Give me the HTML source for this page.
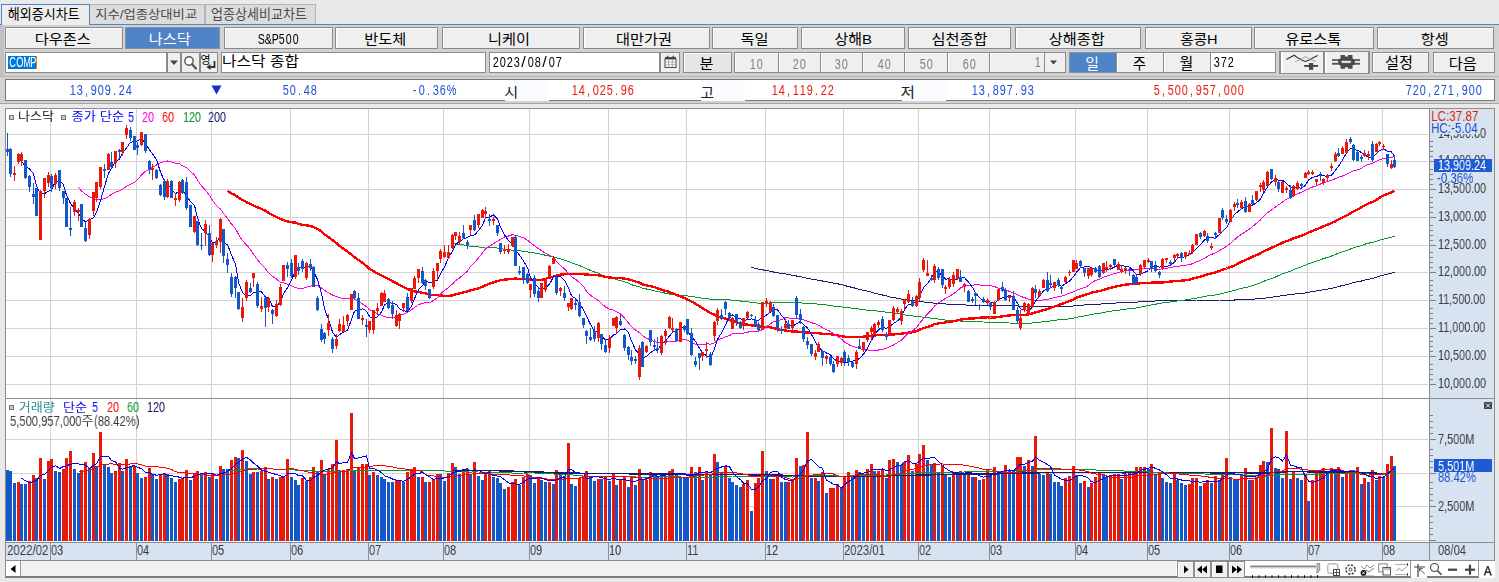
<!DOCTYPE html>
<html lang="ko"><head><meta charset="utf-8"><title>해외증시차트</title><style>
html,body{margin:0;padding:0}
body{width:1499px;height:582px;overflow:hidden;position:relative;background:#e9e9e9;font-family:"Liberation Sans",sans-serif}
div,span.m,span.p,svg.k{position:absolute;box-sizing:border-box}
.tbar{left:0;top:25px;width:1499px;height:79px;background:#d2d2d2;border-bottom:1px solid #a6a6a6}
.tabline{left:0;top:24px;width:1499px;height:1px;background:#4f86c6}
.tab{background:#dcdcdc;border:1px solid #b4b4b4;border-bottom:none}
.tab.act{background:#ededed;border:1px solid #4a86c8;border-bottom:none}
.lstrip{background:#c2c2c2}
.btn{background:#efefef;border:1px solid #8a8a8a;box-shadow:inset 1px 1px 0 #fdfdfd}
.btn.on{background:#4f84c6;border-color:#8791a3;box-shadow:none}
.btn.dk{background:#e6e6e6}
.btn.sm{box-shadow:none}
.inp{background:#fff;border:1px solid #8a8a8a}
.sel{background:#0078d7}
.ic{position:absolute;left:-1px;top:-1px}
.sep{left:0;top:76px;width:1499px;height:1px;background:#b4b4b4}
.quote{background:#fff;border:1px solid #787878}
.frame{background:#fff;border:1px solid #8c8c8c;border-bottom:2px solid #7c7c7c}
.pane{background:#fff}
.axis{background:#d7e3f1}
.hl{height:1px;background:#8c8c8c}
.vl{width:1px;background:#8c8c8c}
.sbar{background:#f1f1f1}
.sbtn{background:#fff;border-right:1px solid #9a9a9a}
.pbtn{background:#f0f0f0;border:1px solid #8e8e8e;box-shadow:inset 1px 1px 0 #fdfdfd}
span.m{white-space:nowrap;line-height:1;transform-origin:0 0;will-change:transform}
span.m i{display:inline-block;font-style:normal;width:var(--a);text-align:center}
span.m i{transform:scaleX(var(--sx))}
span.m i.w{transform:scaleX(1.15)}
span.p{white-space:pre;line-height:1;transform-origin:0 0;will-change:transform}
</style></head><body>
<div class="tbar"></div>
<div class="tabline"></div>
<div class="tab" style="left:89px;top:4px;width:116px;height:20px;"></div>
<div class="tab" style="left:205px;top:4px;width:111px;height:20px;"></div>
<div class="tab act" style="left:1px;top:4px;width:89px;height:21px;"></div>
<svg class="k" role="img" aria-label="해외증시차트" style="left:6px;top:5px" width="78" height="19"><title>해외증시차트</title><text x="1.7" y="13.9" font-size="13.3" fill="#000" textLength="72" lengthAdjust="spacingAndGlyphs" font-family="&quot;Liberation Sans&quot;, &quot;Noto Sans CJK KR&quot;, sans-serif">해외증시차트</text></svg>
<svg class="k" role="img" aria-label="지수/업종상대비교" style="left:93px;top:5px" width="108" height="19"><title>지수/업종상대비교</title><text x="2.2" y="13.6" font-size="12.4" fill="#4a4a4a" textLength="102" lengthAdjust="spacingAndGlyphs" font-family="&quot;Liberation Sans&quot;, &quot;Noto Sans CJK KR&quot;, sans-serif">지수/업종상대비교</text></svg>
<svg class="k" role="img" aria-label="업종상세비교차트" style="left:209px;top:5px" width="102" height="19"><title>업종상세비교차트</title><text x="1.9" y="13.9" font-size="13.3" fill="#4a4a4a" textLength="96" lengthAdjust="spacingAndGlyphs" font-family="&quot;Liberation Sans&quot;, &quot;Noto Sans CJK KR&quot;, sans-serif">업종상세비교차트</text></svg>
<div class="lstrip" style="left:0px;top:25px;width:4px;height:51px;"></div>
<div class="btn" style="left:5px;top:27px;width:118px;height:22px;"></div>
<svg class="k" role="img" aria-label="다우존스" style="left:33px;top:30px" width="61" height="19"><title>다우존스</title><text x="1.7" y="14" font-size="13.6" fill="#000" textLength="56" lengthAdjust="spacingAndGlyphs" font-family="&quot;Liberation Sans&quot;, &quot;Noto Sans CJK KR&quot;, sans-serif">다우존스</text></svg>
<div class="btn on" style="left:125px;top:27px;width:95px;height:22px;"></div>
<svg class="k" role="img" aria-label="나스닥" style="left:147px;top:30px" width="48" height="19"><title>나스닥</title><text x="1.7" y="14" font-size="13.6" fill="#fff" textLength="42" lengthAdjust="spacingAndGlyphs" font-family="&quot;Liberation Sans&quot;, &quot;Noto Sans CJK KR&quot;, sans-serif">나스닥</text></svg>
<div class="btn" style="left:224px;top:27px;width:109px;height:22px;"></div>
<span class="m " style="left:256.7px;top:32px;font-size:14px;color:#000;--a:7px;--sx:0.76"><i>S</i><i>&amp;</i><i>P</i><i>5</i><i>0</i><i>0</i></span>
<div class="btn" style="left:335px;top:27px;width:103px;height:22px;"></div>
<svg class="k" role="img" aria-label="반도체" style="left:363px;top:30px" width="47" height="19"><title>반도체</title><text x="1.2" y="14" font-size="13.6" fill="#000" textLength="42" lengthAdjust="spacingAndGlyphs" font-family="&quot;Liberation Sans&quot;, &quot;Noto Sans CJK KR&quot;, sans-serif">반도체</text></svg>
<div class="btn" style="left:442px;top:27px;width:138px;height:22px;"></div>
<svg class="k" role="img" aria-label="니케이" style="left:487px;top:30px" width="47" height="19"><title>니케이</title><text x="1" y="14" font-size="13.6" fill="#000" textLength="42" lengthAdjust="spacingAndGlyphs" font-family="&quot;Liberation Sans&quot;, &quot;Noto Sans CJK KR&quot;, sans-serif">니케이</text></svg>
<div class="btn" style="left:583px;top:27px;width:127px;height:22px;"></div>
<svg class="k" role="img" aria-label="대만가권" style="left:615px;top:30px" width="61" height="19"><title>대만가권</title><text x="1.1" y="14" font-size="13.6" fill="#000" textLength="56" lengthAdjust="spacingAndGlyphs" font-family="&quot;Liberation Sans&quot;, &quot;Noto Sans CJK KR&quot;, sans-serif">대만가권</text></svg>
<div class="btn" style="left:712px;top:27px;width:86px;height:22px;"></div>
<svg class="k" role="img" aria-label="독일" style="left:738px;top:30px" width="33" height="19"><title>독일</title><text x="2.4" y="14" font-size="13.6" fill="#000" textLength="28" lengthAdjust="spacingAndGlyphs" font-family="&quot;Liberation Sans&quot;, &quot;Noto Sans CJK KR&quot;, sans-serif">독일</text></svg>
<div class="btn" style="left:801px;top:27px;width:104px;height:22px;"></div>
<svg class="k" role="img" aria-label="상해B" style="left:832px;top:30px" width="42" height="19"><title>상해B</title><text x="2.4" y="14" font-size="13.6" fill="#000" textLength="37.5" lengthAdjust="spacingAndGlyphs" font-family="&quot;Liberation Sans&quot;, &quot;Noto Sans CJK KR&quot;, sans-serif">상해B</text></svg>
<div class="btn" style="left:908px;top:27px;width:103px;height:22px;"></div>
<svg class="k" role="img" aria-label="심천종합" style="left:930px;top:30px" width="62" height="19"><title>심천종합</title><text x="1.6" y="14" font-size="13.6" fill="#000" textLength="56" lengthAdjust="spacingAndGlyphs" font-family="&quot;Liberation Sans&quot;, &quot;Noto Sans CJK KR&quot;, sans-serif">심천종합</text></svg>
<div class="btn" style="left:1015px;top:27px;width:126px;height:22px;"></div>
<svg class="k" role="img" aria-label="상해종합" style="left:1047px;top:30px" width="62" height="19"><title>상해종합</title><text x="1.8" y="14" font-size="13.6" fill="#000" textLength="56" lengthAdjust="spacingAndGlyphs" font-family="&quot;Liberation Sans&quot;, &quot;Noto Sans CJK KR&quot;, sans-serif">상해종합</text></svg>
<div class="btn" style="left:1145px;top:27px;width:107px;height:22px;"></div>
<svg class="k" role="img" aria-label="홍콩H" style="left:1178px;top:30px" width="42" height="19"><title>홍콩H</title><text x="2.3" y="14" font-size="13.6" fill="#000" textLength="37.3" lengthAdjust="spacingAndGlyphs" font-family="&quot;Liberation Sans&quot;, &quot;Noto Sans CJK KR&quot;, sans-serif">홍콩H</text></svg>
<div class="btn" style="left:1254px;top:27px;width:120px;height:22px;"></div>
<svg class="k" role="img" aria-label="유로스톡" style="left:1283px;top:30px" width="61" height="19"><title>유로스톡</title><text x="2.3" y="14" font-size="13.8" fill="#000" textLength="56" lengthAdjust="spacingAndGlyphs" font-family="&quot;Liberation Sans&quot;, &quot;Noto Sans CJK KR&quot;, sans-serif">유로스톡</text></svg>
<div class="btn" style="left:1377px;top:27px;width:117px;height:22px;"></div>
<svg class="k" role="img" aria-label="항셍" style="left:1419px;top:30px" width="33" height="19"><title>항셍</title><text x="1.8" y="14" font-size="13.6" fill="#000" textLength="28" lengthAdjust="spacingAndGlyphs" font-family="&quot;Liberation Sans&quot;, &quot;Noto Sans CJK KR&quot;, sans-serif">항셍</text></svg>
<div class="inp" style="left:5px;top:52px;width:162px;height:21px;"></div>
<div class="sel" style="left:8px;top:56px;width:28px;height:13px;"></div>
<div class="" style="left:36px;top:56px;width:1px;height:13px;background:#e8730c"></div>
<span class="m " style="left:8.3px;top:55px;font-size:14px;color:#fff;--a:7px;--sx:0.66"><i>C</i><i>O</i><i>M</i><i>P</i></span>
<div class="btn sm" style="left:167px;top:52px;width:14px;height:21px;"><svg class="ic" width="14" height="21"><path d="M3 8.5h8l-4 4.5z" fill="#444"/></svg></div>
<div class="btn sm" style="left:181px;top:52px;width:19px;height:21px;"><svg class="ic" width="19" height="21"><circle cx="8" cy="9" r="4.2" fill="#fdfdfd" stroke="#555" stroke-width="1.4"/><path d="M11 12.2l4 4.3" stroke="#555" stroke-width="2.2" stroke-linecap="round"/></svg></div>
<div class="btn sm" style="left:200px;top:52px;width:18px;height:21px;"><svg class="ic" width="18" height="21"><path d="M14.5 9v6h-5" fill="none" stroke="#333" stroke-width="1.8"/><path d="M6.5 15l4-3v6z" fill="#333"/></svg></div>
<svg class="k" role="img" aria-label="영" style="left:198px;top:51px" width="15" height="18"><title>영</title><text x="2.4" y="12.6" font-size="11.9" fill="#000" textLength="10" lengthAdjust="spacingAndGlyphs" font-family="&quot;Liberation Sans&quot;, &quot;Noto Sans CJK KR&quot;, sans-serif">영</text></svg>
<div class="inp" style="left:221px;top:52px;width:265px;height:21px;"></div>
<svg class="k" role="img" aria-label="나스닥 종합" style="left:221px;top:52px" width="84" height="19"><title>나스닥 종합</title><text x="1" y="14.3" font-size="13.8" fill="#000" textLength="77" lengthAdjust="spacingAndGlyphs" font-family="&quot;Liberation Sans&quot;, &quot;Noto Sans CJK KR&quot;, sans-serif">나스닥 종합</text></svg>
<div class="inp" style="left:489px;top:52px;width:171px;height:21px;"></div>
<span class="m " style="left:491.8px;top:55px;font-size:14px;color:#000;--a:7px;--sx:0.78"><i>2</i><i>0</i><i>2</i><i>3</i><i class="w">/</i><i>0</i><i>8</i><i class="w">/</i><i>0</i><i>7</i></span>
<div class="btn sm" style="left:660px;top:52px;width:20px;height:21px;"><svg class="ic" width="20" height="21"><rect x="5" y="5" width="11" height="2.5" fill="#444"/><rect x="5" y="7" width="11" height="8.5" fill="#fff" stroke="#444" stroke-width="1"/><path d="M8.7 7v8.5M12.3 7v8.5M5 10h11M5 12.8h11" stroke="#999" stroke-width="0.8"/><rect x="7" y="3.8" width="1.4" height="2" fill="#444"/><rect x="12.6" y="3.8" width="1.4" height="2" fill="#444"/></svg></div>
<div class="btn dk" style="left:683px;top:52px;width:49px;height:21px;"></div>
<svg class="k" role="img" aria-label="분" style="left:697px;top:54px" width="19" height="20"><title>분</title><text x="2.5" y="14.8" font-size="15.2" fill="#000" textLength="14" lengthAdjust="spacingAndGlyphs" font-family="&quot;Liberation Sans&quot;, &quot;Noto Sans CJK KR&quot;, sans-serif">분</text></svg>
<div class="btn" style="left:734px;top:52px;width:45px;height:21px;"></div>
<span class="m " style="left:749.45px;top:57px;font-size:14px;color:#808080;--a:7px;--sx:0.78"><i>1</i><i>0</i></span>
<div class="btn" style="left:778px;top:52px;width:43px;height:21px;"></div>
<span class="m " style="left:792.2px;top:57px;font-size:14px;color:#808080;--a:7px;--sx:0.78"><i>2</i><i>0</i></span>
<div class="btn" style="left:820px;top:52px;width:43px;height:21px;"></div>
<span class="m " style="left:834.45px;top:57px;font-size:14px;color:#808080;--a:7px;--sx:0.78"><i>3</i><i>0</i></span>
<div class="btn" style="left:862px;top:52px;width:43px;height:21px;"></div>
<span class="m " style="left:876.95px;top:57px;font-size:14px;color:#808080;--a:7px;--sx:0.78"><i>4</i><i>0</i></span>
<div class="btn" style="left:904px;top:52px;width:44px;height:21px;"></div>
<span class="m " style="left:919.45px;top:57px;font-size:14px;color:#808080;--a:7px;--sx:0.78"><i>5</i><i>0</i></span>
<div class="btn" style="left:947px;top:52px;width:44px;height:21px;"></div>
<span class="m " style="left:961.95px;top:57px;font-size:14px;color:#808080;--a:7px;--sx:0.78"><i>6</i><i>0</i></span>
<div class="btn" style="left:989px;top:52px;width:56px;height:21px;"></div>
<span class="m " style="left:1033.5px;top:55px;font-size:14px;color:#808080;--a:7px;--sx:0.78"><i>1</i></span>
<div class="btn sm" style="left:1044px;top:52px;width:22px;height:21px;"><svg class="ic" width="22" height="21"><path d="M6 8.5h7l-3.5 4z" fill="#444"/></svg></div>
<div class="btn on" style="left:1069px;top:52px;width:48px;height:21px;"></div>
<svg class="k" role="img" aria-label="일" style="left:1084px;top:54px" width="18" height="20"><title>일</title><text x="1.2" y="15.2" font-size="15.1" fill="#fff" textLength="13.7" lengthAdjust="spacingAndGlyphs" font-family="&quot;Liberation Sans&quot;, &quot;Noto Sans CJK KR&quot;, sans-serif">일</text></svg>
<div class="btn" style="left:1116px;top:52px;width:48px;height:21px;"></div>
<svg class="k" role="img" aria-label="주" style="left:1131px;top:54px" width="19" height="20"><title>주</title><text x="1.7" y="14.6" font-size="15.3" fill="#000" textLength="13.4" lengthAdjust="spacingAndGlyphs" font-family="&quot;Liberation Sans&quot;, &quot;Noto Sans CJK KR&quot;, sans-serif">주</text></svg>
<div class="btn" style="left:1163px;top:52px;width:48px;height:21px;"></div>
<svg class="k" role="img" aria-label="월" style="left:1177px;top:54px" width="19" height="20"><title>월</title><text x="2.6" y="15.1" font-size="15.4" fill="#000" textLength="13.8" lengthAdjust="spacingAndGlyphs" font-family="&quot;Liberation Sans&quot;, &quot;Noto Sans CJK KR&quot;, sans-serif">월</text></svg>
<div class="inp" style="left:1210px;top:52px;width:66px;height:21px;"></div>
<span class="m " style="left:1212.6px;top:55px;font-size:14px;color:#000;--a:7px;--sx:0.78"><i>3</i><i>7</i><i>2</i></span>
<div class="" style="left:1279px;top:51px;width:91px;height:23px;background:#efefef;border:2px solid #8e8e8e;border-bottom-width:1px;border-top-width:1px"></div>
<div class="" style="left:1323px;top:51px;width:2px;height:23px;background:#8e8e8e"></div>
<div class="" style="left:1325px;top:52px;width:2px;height:21px;background:#fff"></div>
<div class="" style="left:1281px;top:52px;width:2px;height:21px;background:#fff"></div>
<svg class="k" style="left:1279px;top:51px" width="90" height="23" viewBox="1279 51 90 23"><path d="M1286.3 59.5l5.1-2.8 2.9-1.5 2.2 1.8 5.1 2.9 3.9 1.6 3.8-1.6 5.2-2.9 3.2-1.6" fill="none" stroke="#333" stroke-width="1.1"/><path d="M1295.2 61.5l5.2-2 5.1-2.8 5.1 2.8 5.1 2" fill="none" stroke="#999" stroke-width="0.9"/><rect x="1304.2" y="65" width="13.8" height="1.9" fill="#444"/><rect x="1309" y="63" width="4.2" height="6.8" fill="#444"/><rect x="1332" y="59.2" width="28" height="1.7" fill="#555"/><rect x="1332" y="62.8" width="28" height="1.9" fill="#555"/><path d="M1340.5 55h4.5v1.6h3v-1.6h4.5v3.4l2.3 1.2v4.6l-2.3 1.2v3.4h-4.5v-1.6h-3v1.6h-4.5v-3.4l-2.3-1.2v-4.6l2.3-1.2zM1341.5 60v4h9.3v-4z" fill="#4a4a4a" fill-rule="evenodd"/></svg>
<div class="btn" style="left:1372px;top:52px;width:57px;height:21px;"></div>
<svg class="k" role="img" aria-label="설정" style="left:1383px;top:54px" width="33" height="20"><title>설정</title><text x="2.1" y="14.4" font-size="14.5" fill="#000" textLength="28" lengthAdjust="spacingAndGlyphs" font-family="&quot;Liberation Sans&quot;, &quot;Noto Sans CJK KR&quot;, sans-serif">설정</text></svg>
<div class="btn" style="left:1433px;top:52px;width:62px;height:21px;"></div>
<svg class="k" role="img" aria-label="다음" style="left:1447px;top:54px" width="33" height="20"><title>다음</title><text x="1.7" y="14.5" font-size="14.6" fill="#000" textLength="28" lengthAdjust="spacingAndGlyphs" font-family="&quot;Liberation Sans&quot;, &quot;Noto Sans CJK KR&quot;, sans-serif">다음</text></svg>
<div class="sep"></div>
<div class="quote" style="left:5px;top:79px;width:1490px;height:22px;"></div>
<div class="" style="left:505px;top:80px;width:44px;height:21px;background:#fafcff"></div>
<div class="" style="left:701px;top:80px;width:44px;height:21px;background:#fafcff"></div>
<div class="" style="left:902px;top:80px;width:44px;height:21px;background:#fafcff"></div>
<span class="m " style="left:69.2px;top:83px;font-size:14px;color:#1e50d2;--a:7px;--sx:0.78"><i>1</i><i>3</i><i>,</i><i>9</i><i>0</i><i>9</i><i>.</i><i>2</i><i>4</i></span>
<svg class="k" style="left:211px;top:85px" width="12" height="10"><path d="M0.5 0.5h10l-5 9z" fill="#1432c8"/></svg>
<span class="m " style="left:281.8px;top:83px;font-size:14px;color:#1e50d2;--a:7px;--sx:0.78"><i>5</i><i>0</i><i>.</i><i>4</i><i>8</i></span>
<span class="m " style="left:411px;top:83px;font-size:14px;color:#1e50d2;--a:7px;--sx:0.78"><i>-</i><i>0</i><i>.</i><i>3</i><i>6</i><i>%</i></span>
<svg class="k" role="img" aria-label="시" style="left:502px;top:82px" width="18" height="19"><title>시</title><text x="2.2" y="14.8" font-size="14" fill="#222" textLength="14" lengthAdjust="spacingAndGlyphs" font-family="&quot;Liberation Sans&quot;, &quot;Noto Sans CJK KR&quot;, sans-serif">시</text></svg>
<span class="m " style="left:571px;top:83px;font-size:14px;color:#e8190a;--a:7px;--sx:0.78"><i>1</i><i>4</i><i>,</i><i>0</i><i>2</i><i>5</i><i>.</i><i>9</i><i>6</i></span>
<svg class="k" role="img" aria-label="고" style="left:698px;top:83px" width="19" height="18"><title>고</title><text x="2.4" y="14.5" font-size="14.4" fill="#222" textLength="13.5" lengthAdjust="spacingAndGlyphs" font-family="&quot;Liberation Sans&quot;, &quot;Noto Sans CJK KR&quot;, sans-serif">고</text></svg>
<span class="m " style="left:771.3px;top:83px;font-size:14px;color:#e8190a;--a:7px;--sx:0.78"><i>1</i><i>4</i><i>,</i><i>1</i><i>1</i><i>9</i><i>.</i><i>2</i><i>2</i></span>
<svg class="k" role="img" aria-label="저" style="left:899px;top:82px" width="19" height="19"><title>저</title><text x="1.6" y="14.8" font-size="14" fill="#222" textLength="14.5" lengthAdjust="spacingAndGlyphs" font-family="&quot;Liberation Sans&quot;, &quot;Noto Sans CJK KR&quot;, sans-serif">저</text></svg>
<span class="m " style="left:971px;top:83px;font-size:14px;color:#1e50d2;--a:7px;--sx:0.78"><i>1</i><i>3</i><i>,</i><i>8</i><i>9</i><i>7</i><i>.</i><i>9</i><i>3</i></span>
<span class="m " style="left:1152.6px;top:83px;font-size:14px;color:#e8190a;--a:7px;--sx:0.78"><i>5</i><i>,</i><i>5</i><i>0</i><i>0</i><i>,</i><i>9</i><i>5</i><i>7</i><i>,</i><i>0</i><i>0</i><i>0</i></span>
<span class="m " style="left:1405px;top:83px;font-size:14px;color:#1e50d2;--a:7px;--sx:0.78"><i>7</i><i>2</i><i>0</i><i>,</i><i>2</i><i>7</i><i>1</i><i>,</i><i>9</i><i>0</i><i>0</i></span>
<div class="frame" style="left:5px;top:108px;width:1490px;height:470px;"></div>
<div class="pane" style="left:6px;top:109px;width:1423px;height:289px;"></div>
<div class="pane" style="left:6px;top:399px;width:1423px;height:143px;"></div>
<div class="axis" style="left:1430px;top:109px;width:64px;height:289px;"></div>
<div class="axis" style="left:1430px;top:399px;width:64px;height:143px;"></div>
<div class="axis" style="left:6px;top:543px;width:1488px;height:17px;"></div>
<div class="hl" style="left:6px;top:398px;width:1488px"></div>
<div class="hl" style="left:6px;top:542px;width:1488px"></div>
<div class="hl" style="left:6px;top:560px;width:1488px"></div>
<div class="vl" style="left:1429px;top:109px;height:452px"></div>
<div class="vl" style="left:1494px;top:109px;height:452px"></div>
<svg class="k" style="left:0;top:0" width="1499" height="582" viewBox="0 0 1499 582">
<g shape-rendering="crispEdges">
<rect x="50" y="109" width="1" height="289" fill="#d2d2d2"/>
<rect x="50" y="399" width="1" height="142" fill="#d2d2d2"/>
<rect x="136" y="109" width="1" height="289" fill="#d2d2d2"/>
<rect x="136" y="399" width="1" height="142" fill="#d2d2d2"/>
<rect x="211" y="109" width="1" height="289" fill="#d2d2d2"/>
<rect x="211" y="399" width="1" height="142" fill="#d2d2d2"/>
<rect x="290" y="109" width="1" height="289" fill="#d2d2d2"/>
<rect x="290" y="399" width="1" height="142" fill="#d2d2d2"/>
<rect x="368" y="109" width="1" height="289" fill="#d2d2d2"/>
<rect x="368" y="399" width="1" height="142" fill="#d2d2d2"/>
<rect x="443" y="109" width="1" height="289" fill="#d2d2d2"/>
<rect x="443" y="399" width="1" height="142" fill="#d2d2d2"/>
<rect x="529" y="109" width="1" height="289" fill="#d2d2d2"/>
<rect x="529" y="399" width="1" height="142" fill="#d2d2d2"/>
<rect x="608" y="109" width="1" height="289" fill="#d2d2d2"/>
<rect x="608" y="399" width="1" height="142" fill="#d2d2d2"/>
<rect x="686" y="109" width="1" height="289" fill="#d2d2d2"/>
<rect x="686" y="399" width="1" height="142" fill="#d2d2d2"/>
<rect x="765" y="109" width="1" height="289" fill="#d2d2d2"/>
<rect x="765" y="399" width="1" height="142" fill="#d2d2d2"/>
<rect x="843" y="109" width="1" height="289" fill="#d2d2d2"/>
<rect x="843" y="399" width="1" height="142" fill="#d2d2d2"/>
<rect x="918" y="109" width="1" height="289" fill="#d2d2d2"/>
<rect x="918" y="399" width="1" height="142" fill="#d2d2d2"/>
<rect x="989" y="109" width="1" height="289" fill="#d2d2d2"/>
<rect x="989" y="399" width="1" height="142" fill="#d2d2d2"/>
<rect x="1075" y="109" width="1" height="289" fill="#d2d2d2"/>
<rect x="1075" y="399" width="1" height="142" fill="#d2d2d2"/>
<rect x="1147" y="109" width="1" height="289" fill="#d2d2d2"/>
<rect x="1147" y="399" width="1" height="142" fill="#d2d2d2"/>
<rect x="1229" y="109" width="1" height="289" fill="#d2d2d2"/>
<rect x="1229" y="399" width="1" height="142" fill="#d2d2d2"/>
<rect x="1307" y="109" width="1" height="289" fill="#d2d2d2"/>
<rect x="1307" y="399" width="1" height="142" fill="#d2d2d2"/>
<rect x="1382" y="109" width="1" height="289" fill="#d2d2d2"/>
<rect x="1382" y="399" width="1" height="142" fill="#d2d2d2"/>
<rect x="6" y="384" width="1422" height="1" fill="#d2d2d2"/>
<rect x="6" y="356" width="1422" height="1" fill="#d2d2d2"/>
<rect x="6" y="328" width="1422" height="1" fill="#d2d2d2"/>
<rect x="6" y="300" width="1422" height="1" fill="#d2d2d2"/>
<rect x="6" y="272" width="1422" height="1" fill="#d2d2d2"/>
<rect x="6" y="245" width="1422" height="1" fill="#d2d2d2"/>
<rect x="6" y="217" width="1422" height="1" fill="#d2d2d2"/>
<rect x="6" y="189" width="1422" height="1" fill="#d2d2d2"/>
<rect x="6" y="161" width="1422" height="1" fill="#d2d2d2"/>
<rect x="6" y="134" width="1422" height="1" fill="#d2d2d2"/>
<rect x="6" y="439" width="1422" height="1" fill="#d2d2d2"/>
<rect x="6" y="473" width="1422" height="1" fill="#d2d2d2"/>
<rect x="6" y="506" width="1422" height="1" fill="#d2d2d2"/>
<rect x="6" y="540" width="1422" height="1" fill="#d2d2d2"/>
<path d="M6 470h3V541h-3zM9 471h3V541h-3zM13 483h3V541h-3zM20 484h3V541h-3zM24 484h3V541h-3zM35 478h3V541h-3zM43 479h3V541h-3zM54 471h3V541h-3zM58 472h3V541h-3zM73 469h3V541h-3zM77 473h3V541h-3zM88 468h3V541h-3zM95 466h3V541h-3zM103 465h3V541h-3zM107 467h3V541h-3zM110 473h3V541h-3zM121 471h3V541h-3zM129 467h3V541h-3zM136 473h3V541h-3zM140 478h3V541h-3zM151 474h3V541h-3zM155 479h3V541h-3zM166 474h3V541h-3zM170 478h3V541h-3zM174 482h3V541h-3zM189 480h3V541h-3zM200 474h3V541h-3zM208 477h3V541h-3zM215 479h3V541h-3zM222 469h3V541h-3zM226 469h3V541h-3zM237 458h3V541h-3zM245 461h3V541h-3zM249 474h3V541h-3zM256 472h3V541h-3zM267 479h3V541h-3zM275 479h3V541h-3zM290 477h3V541h-3zM294 480h3V541h-3zM297 485h3V541h-3zM305 481h3V541h-3zM316 472h3V541h-3zM323 475h3V541h-3zM338 470h3V541h-3zM353 471h3V541h-3zM368 475h3V541h-3zM376 475h3V541h-3zM380 477h3V541h-3zM383 479h3V541h-3zM387 482h3V541h-3zM391 482h3V541h-3zM402 482h3V541h-3zM417 477h3V541h-3zM424 482h3V541h-3zM439 474h3V541h-3zM443 481h3V541h-3zM454 467h3V541h-3zM458 474h3V541h-3zM469 474h3V541h-3zM477 476h3V541h-3zM481 480h3V541h-3zM492 477h3V541h-3zM496 478h3V541h-3zM499 483h3V541h-3zM503 489h3V541h-3zM518 485h3V541h-3zM529 475h3V541h-3zM533 483h3V541h-3zM540 480h3V541h-3zM544 482h3V541h-3zM552 484h3V541h-3zM559 474h3V541h-3zM563 476h3V541h-3zM570 484h3V541h-3zM574 486h3V541h-3zM589 477h3V541h-3zM593 481h3V541h-3zM600 479h3V541h-3zM608 481h3V541h-3zM615 485h3V541h-3zM627 487h3V541h-3zM634 485h3V541h-3zM641 480h3V541h-3zM653 473h3V541h-3zM656 477h3V541h-3zM660 477h3V541h-3zM675 475h3V541h-3zM679 478h3V541h-3zM683 478h3V541h-3zM686 478h3V541h-3zM694 472h3V541h-3zM701 480h3V541h-3zM709 474h3V541h-3zM716 462h3V541h-3zM720 473h3V541h-3zM728 478h3V541h-3zM731 482h3V541h-3zM735 485h3V541h-3zM739 487h3V541h-3zM750 511h3V541h-3zM765 471h3V541h-3zM769 479h3V541h-3zM780 482h3V541h-3zM784 482h3V541h-3zM799 466h3V541h-3zM810 478h3V541h-3zM817 481h3V541h-3zM825 493h3V541h-3zM840 488h3V541h-3zM851 477h3V541h-3zM858 472h3V541h-3zM862 474h3V541h-3zM873 471h3V541h-3zM885 478h3V541h-3zM896 462h3V541h-3zM900 465h3V541h-3zM911 471h3V541h-3zM926 460h3V541h-3zM930 465h3V541h-3zM937 473h3V541h-3zM944 475h3V541h-3zM948 477h3V541h-3zM956 473h3V541h-3zM963 473h3V541h-3zM971 477h3V541h-3zM978 480h3V541h-3zM989 473h3V541h-3zM997 474h3V541h-3zM1001 474h3V541h-3zM1008 470h3V541h-3zM1012 471h3V541h-3zM1023 466h3V541h-3zM1031 466h3V541h-3zM1038 474h3V541h-3zM1042 475h3V541h-3zM1049 474h3V541h-3zM1053 482h3V541h-3zM1057 482h3V541h-3zM1060 486h3V541h-3zM1075 475h3V541h-3zM1079 483h3V541h-3zM1087 487h3V541h-3zM1102 474h3V541h-3zM1105 477h3V541h-3zM1120 479h3V541h-3zM1147 469h3V541h-3zM1154 475h3V541h-3zM1161 478h3V541h-3zM1165 482h3V541h-3zM1169 483h3V541h-3zM1176 480h3V541h-3zM1180 483h3V541h-3zM1184 485h3V541h-3zM1199 486h3V541h-3zM1210 483h3V541h-3zM1218 480h3V541h-3zM1229 477h3V541h-3zM1233 480h3V541h-3zM1236 480h3V541h-3zM1248 480h3V541h-3zM1266 462h3V541h-3zM1274 468h3V541h-3zM1277 469h3V541h-3zM1281 478h3V541h-3zM1289 479h3V541h-3zM1296 478h3V541h-3zM1300 480h3V541h-3zM1307 501h3V541h-3zM1326 474h3V541h-3zM1334 471h3V541h-3zM1341 477h3V541h-3zM1352 470h3V541h-3zM1360 484h3V541h-3zM1367 482h3V541h-3zM1375 480h3V541h-3zM1382 477h3V541h-3zM1393 466h3V541h-3z" fill="#1458c8"/>
<path d="M17 482h3V541h-3zM28 481h3V541h-3zM32 475h3V541h-3zM39 458h3V541h-3zM47 461h3V541h-3zM50 459h3V541h-3zM62 469h3V541h-3zM65 458h3V541h-3zM69 451h3V541h-3zM80 470h3V541h-3zM84 462h3V541h-3zM92 453h3V541h-3zM99 432h3V541h-3zM114 471h3V541h-3zM118 464h3V541h-3zM125 459h3V541h-3zM133 466h3V541h-3zM144 477h3V541h-3zM148 468h3V541h-3zM159 475h3V541h-3zM163 473h3V541h-3zM178 479h3V541h-3zM181 478h3V541h-3zM185 470h3V541h-3zM193 474h3V541h-3zM196 471h3V541h-3zM204 472h3V541h-3zM211 474h3V541h-3zM219 466h3V541h-3zM230 460h3V541h-3zM234 457h3V541h-3zM241 450h3V541h-3zM252 472h3V541h-3zM260 471h3V541h-3zM264 467h3V541h-3zM271 477h3V541h-3zM279 477h3V541h-3zM282 476h3V541h-3zM286 459h3V541h-3zM301 478h3V541h-3zM309 477h3V541h-3zM312 467h3V541h-3zM320 460h3V541h-3zM327 469h3V541h-3zM331 464h3V541h-3zM335 440h3V541h-3zM342 470h3V541h-3zM346 469h3V541h-3zM350 413h3V541h-3zM357 467h3V541h-3zM361 464h3V541h-3zM365 464h3V541h-3zM372 472h3V541h-3zM395 480h3V541h-3zM398 480h3V541h-3zM406 472h3V541h-3zM410 469h3V541h-3zM413 467h3V541h-3zM421 477h3V541h-3zM428 482h3V541h-3zM432 479h3V541h-3zM436 474h3V541h-3zM447 473h3V541h-3zM451 463h3V541h-3zM462 470h3V541h-3zM466 469h3V541h-3zM473 462h3V541h-3zM484 474h3V541h-3zM488 471h3V541h-3zM507 487h3V541h-3zM511 482h3V541h-3zM514 479h3V541h-3zM522 477h3V541h-3zM526 474h3V541h-3zM537 477h3V541h-3zM548 482h3V541h-3zM555 470h3V541h-3zM567 443h3V541h-3zM578 478h3V541h-3zM582 476h3V541h-3zM585 471h3V541h-3zM597 479h3V541h-3zM604 477h3V541h-3zM612 474h3V541h-3zM619 480h3V541h-3zM623 477h3V541h-3zM630 477h3V541h-3zM638 469h3V541h-3zM645 480h3V541h-3zM649 472h3V541h-3zM664 476h3V541h-3zM668 471h3V541h-3zM671 469h3V541h-3zM690 467h3V541h-3zM698 467h3V541h-3zM705 472h3V541h-3zM713 454h3V541h-3zM724 466h3V541h-3zM742 484h3V541h-3zM746 480h3V541h-3zM754 483h3V541h-3zM757 478h3V541h-3zM761 451h3V541h-3zM772 479h3V541h-3zM776 476h3V541h-3zM787 482h3V541h-3zM791 480h3V541h-3zM795 458h3V541h-3zM802 465h3V541h-3zM806 432h3V541h-3zM814 478h3V541h-3zM821 472h3V541h-3zM829 488h3V541h-3zM832 488h3V541h-3zM836 484h3V541h-3zM843 476h3V541h-3zM847 472h3V541h-3zM855 470h3V541h-3zM866 469h3V541h-3zM870 464h3V541h-3zM877 471h3V541h-3zM881 470h3V541h-3zM888 460h3V541h-3zM892 459h3V541h-3zM903 462h3V541h-3zM907 455h3V541h-3zM915 464h3V541h-3zM918 454h3V541h-3zM922 445h3V541h-3zM933 463h3V541h-3zM941 465h3V541h-3zM952 472h3V541h-3zM959 471h3V541h-3zM967 472h3V541h-3zM974 477h3V541h-3zM982 479h3V541h-3zM986 470h3V541h-3zM993 467h3V541h-3zM1004 465h3V541h-3zM1016 457h3V541h-3zM1019 457h3V541h-3zM1027 460h3V541h-3zM1034 436h3V541h-3zM1046 473h3V541h-3zM1064 478h3V541h-3zM1068 476h3V541h-3zM1072 466h3V541h-3zM1083 481h3V541h-3zM1090 483h3V541h-3zM1094 477h3V541h-3zM1098 473h3V541h-3zM1109 476h3V541h-3zM1113 474h3V541h-3zM1117 474h3V541h-3zM1124 474h3V541h-3zM1128 473h3V541h-3zM1132 472h3V541h-3zM1135 467h3V541h-3zM1139 467h3V541h-3zM1143 467h3V541h-3zM1150 464h3V541h-3zM1158 474h3V541h-3zM1173 472h3V541h-3zM1188 484h3V541h-3zM1191 478h3V541h-3zM1195 478h3V541h-3zM1203 483h3V541h-3zM1206 480h3V541h-3zM1214 476h3V541h-3zM1221 475h3V541h-3zM1225 458h3V541h-3zM1240 475h3V541h-3zM1244 468h3V541h-3zM1251 480h3V541h-3zM1255 477h3V541h-3zM1259 465h3V541h-3zM1262 461h3V541h-3zM1270 428h3V541h-3zM1285 431h3V541h-3zM1292 472h3V541h-3zM1304 474h3V541h-3zM1311 480h3V541h-3zM1315 471h3V541h-3zM1319 470h3V541h-3zM1322 468h3V541h-3zM1330 468h3V541h-3zM1337 467h3V541h-3zM1345 473h3V541h-3zM1349 470h3V541h-3zM1356 467h3V541h-3zM1363 478h3V541h-3zM1371 470h3V541h-3zM1378 476h3V541h-3zM1386 464h3V541h-3zM1390 456h3V541h-3z" fill="#e8190a"/>
</g>
<polyline points="751.5,267.5 755.5,268.4 758.5,269.2 762.5,269.8 766.5,270.6 770.5,271.3 773.5,272.0 777.5,272.7 781.5,273.4 785.5,273.9 788.5,274.6 792.5,275.3 796.5,276.0 800.5,276.7 803.5,277.5 807.5,278.3 811.5,279.1 815.5,279.7 818.5,280.3 822.5,281.0 826.5,281.8 830.5,282.5 833.5,283.1 837.5,283.8 841.5,284.6 844.5,285.5 848.5,286.5 852.5,287.5 856.5,288.5 859.5,289.4 863.5,290.3 867.5,291.2 871.5,292.2 874.5,293.1 878.5,294.1 882.5,295.0 886.5,295.9 889.5,296.9 893.5,297.6 897.5,298.3 901.5,299.1 904.5,299.7 908.5,300.2 912.5,300.7 916.5,301.3 919.5,301.7 923.5,302.0 927.5,302.5 931.5,302.9 934.5,303.2 938.5,303.5 942.5,303.8 945.5,304.0 949.5,304.2 953.5,304.4 957.5,304.5 960.5,304.7 964.5,304.9 968.5,305.3 972.5,305.5 975.5,305.7 979.5,305.8 983.5,305.8 987.5,305.8 990.5,305.8 994.5,305.9 998.5,305.9 1002.5,306.0 1005.5,305.9 1009.5,305.9 1013.5,305.9 1017.5,306.0 1020.5,306.0 1024.5,306.0 1028.5,306.1 1032.5,306.2 1035.5,306.3 1039.5,306.4 1043.5,306.5 1047.5,306.6 1050.5,306.7 1054.5,306.8 1058.5,306.9 1061.5,306.9 1065.5,306.7 1069.5,306.4 1073.5,306.0 1076.5,305.7 1080.5,305.3 1084.5,305.0 1088.5,304.7 1091.5,304.4 1095.5,304.2 1099.5,304.1 1103.5,303.9 1106.5,303.7 1110.5,303.4 1114.5,303.1 1118.5,302.8 1121.5,302.6 1125.5,302.4 1129.5,302.3 1133.5,302.2 1136.5,302.1 1140.5,301.9 1144.5,301.6 1148.5,301.3 1151.5,301.2 1155.5,301.0 1159.5,300.9 1162.5,300.8 1166.5,300.7 1170.5,300.6 1174.5,300.5 1177.5,300.3 1181.5,300.2 1185.5,300.2 1189.5,300.2 1192.5,300.1 1196.5,300.0 1200.5,300.0 1204.5,300.0 1207.5,300.1 1211.5,300.1 1215.5,300.1 1219.5,300.0 1222.5,300.0 1226.5,300.0 1230.5,300.0 1234.5,300.0 1237.5,299.9 1241.5,299.8 1245.5,299.7 1249.5,299.5 1252.5,299.2 1256.5,298.9 1260.5,298.7 1263.5,298.3 1267.5,297.8 1271.5,297.3 1275.5,296.7 1278.5,296.3 1282.5,295.7 1286.5,295.1 1290.5,294.7 1293.5,294.2 1297.5,293.8 1301.5,293.5 1305.5,292.9 1308.5,292.3 1312.5,291.7 1316.5,291.0 1320.5,290.4 1323.5,289.8 1327.5,289.1 1331.5,288.3 1335.5,287.4 1338.5,286.5 1342.5,285.5 1346.5,284.6 1350.5,283.6 1353.5,282.6 1357.5,281.8 1361.5,281.0 1364.5,280.1 1368.5,279.3 1372.5,278.3 1376.5,277.3 1379.5,276.2 1383.5,275.1 1387.5,274.2 1391.5,273.2 1394.5,272.3" fill="none" stroke="#1a1a70" stroke-width="1" stroke-linejoin="round" shape-rendering="crispEdges" />
<polyline points="452.5,243.2 455.5,243.9 459.5,244.4 463.5,244.9 467.5,245.7 470.5,246.3 474.5,246.7 478.5,247.0 482.5,247.1 485.5,247.0 489.5,247.3 493.5,247.6 497.5,248.1 500.5,248.6 504.5,249.3 508.5,249.8 512.5,250.1 515.5,250.4 519.5,250.8 523.5,251.4 527.5,252.0 530.5,252.5 534.5,253.0 538.5,253.6 541.5,254.4 545.5,255.2 549.5,256.0 553.5,256.7 556.5,257.9 560.5,258.9 564.5,260.1 568.5,261.4 571.5,262.7 575.5,264.2 579.5,265.6 583.5,267.1 586.5,268.7 590.5,270.4 594.5,272.0 598.5,273.3 601.5,274.7 605.5,276.2 609.5,277.4 613.5,278.4 616.5,279.5 620.5,280.6 624.5,281.8 628.5,283.3 631.5,284.7 635.5,285.9 639.5,286.9 642.5,288.2 646.5,289.0 650.5,289.8 654.5,290.9 657.5,291.6 661.5,292.4 665.5,293.2 669.5,294.0 672.5,294.6 676.5,295.2 680.5,295.5 684.5,295.8 687.5,296.0 691.5,296.4 695.5,297.1 699.5,297.7 702.5,298.3 706.5,298.7 710.5,299.2 714.5,299.3 717.5,299.4 721.5,299.4 725.5,299.5 729.5,299.7 732.5,300.2 736.5,300.6 740.5,301.0 743.5,301.6 747.5,301.9 751.5,302.3 755.5,302.8 758.5,303.3 762.5,303.5 766.5,303.4 770.5,303.1 773.5,302.9 777.5,302.9 781.5,302.8 785.5,302.6 788.5,302.7 792.5,302.6 796.5,302.6 800.5,302.9 803.5,303.2 807.5,303.4 811.5,303.7 815.5,303.9 818.5,304.1 822.5,304.5 826.5,304.9 830.5,305.5 833.5,306.2 837.5,306.6 841.5,306.9 844.5,307.3 848.5,307.7 852.5,308.3 856.5,308.6 859.5,309.1 863.5,309.6 867.5,310.2 871.5,310.5 874.5,310.9 878.5,311.1 882.5,311.6 886.5,312.2 889.5,312.8 893.5,313.2 897.5,313.7 901.5,314.3 904.5,314.9 908.5,315.4 912.5,315.9 916.5,316.4 919.5,316.8 923.5,317.1 927.5,317.6 931.5,318.2 934.5,318.6 938.5,319.1 942.5,319.6 945.5,320.1 949.5,320.3 953.5,320.5 957.5,320.7 960.5,321.1 964.5,321.2 968.5,321.4 972.5,321.6 975.5,321.7 979.5,321.9 983.5,322.0 987.5,322.0 990.5,322.2 994.5,322.4 998.5,322.6 1002.5,322.8 1005.5,322.9 1009.5,323.0 1013.5,323.1 1017.5,323.2 1020.5,323.4 1024.5,323.4 1028.5,323.3 1032.5,323.0 1035.5,322.6 1039.5,322.2 1043.5,321.7 1047.5,321.4 1050.5,320.9 1054.5,320.3 1058.5,319.9 1061.5,319.7 1065.5,319.3 1069.5,318.9 1073.5,318.2 1076.5,317.4 1080.5,316.6 1084.5,315.9 1088.5,315.2 1091.5,314.4 1095.5,313.8 1099.5,313.2 1103.5,312.6 1106.5,311.9 1110.5,311.3 1114.5,310.7 1118.5,310.3 1121.5,309.8 1125.5,309.2 1129.5,308.7 1133.5,308.4 1136.5,307.9 1140.5,307.2 1144.5,306.3 1148.5,305.5 1151.5,304.8 1155.5,304.2 1159.5,303.4 1162.5,302.9 1166.5,302.5 1170.5,302.0 1174.5,301.5 1177.5,301.0 1181.5,300.5 1185.5,299.9 1189.5,299.3 1192.5,298.7 1196.5,298.1 1200.5,297.4 1204.5,296.6 1207.5,295.9 1211.5,295.4 1215.5,294.9 1219.5,294.2 1222.5,293.3 1226.5,292.5 1230.5,291.4 1234.5,290.5 1237.5,289.4 1241.5,288.4 1245.5,287.6 1249.5,286.6 1252.5,285.5 1256.5,284.2 1260.5,282.8 1263.5,281.4 1267.5,279.9 1271.5,278.5 1275.5,277.0 1278.5,275.5 1282.5,273.9 1286.5,272.5 1290.5,271.2 1293.5,269.7 1297.5,268.2 1301.5,266.7 1305.5,265.2 1308.5,263.8 1312.5,262.4 1316.5,261.1 1320.5,259.8 1323.5,258.6 1327.5,257.4 1331.5,256.0 1335.5,254.5 1338.5,253.1 1342.5,251.8 1346.5,250.4 1350.5,249.0 1353.5,247.8 1357.5,246.7 1361.5,245.5 1364.5,244.3 1368.5,243.2 1372.5,242.4 1376.5,241.3 1379.5,240.2 1383.5,239.2 1387.5,238.2 1391.5,237.2 1394.5,236.2" fill="none" stroke="#0a9632" stroke-width="1" stroke-linejoin="round" shape-rendering="crispEdges" />
<polyline points="227.5,191.0 231.5,193.4 235.5,195.3 238.5,197.5 242.5,200.1 246.5,202.2 250.5,204.1 253.5,205.6 257.5,207.4 261.5,208.9 265.5,210.8 268.5,212.8 272.5,215.1 276.5,217.1 280.5,218.9 283.5,220.2 287.5,221.4 291.5,222.2 295.5,222.6 298.5,223.8 302.5,224.8 306.5,225.4 310.5,225.9 313.5,227.0 317.5,228.9 321.5,231.6 324.5,234.4 328.5,237.0 332.5,240.2 336.5,243.1 339.5,245.9 343.5,248.8 347.5,251.7 351.5,254.5 354.5,257.1 358.5,260.0 362.5,262.8 366.5,266.1 369.5,268.9 373.5,271.2 377.5,273.6 381.5,275.5 384.5,277.1 388.5,279.0 392.5,281.2 396.5,283.2 399.5,285.1 403.5,287.1 407.5,289.1 411.5,290.4 414.5,291.3 418.5,292.1 422.5,292.8 425.5,293.4 429.5,294.7 433.5,294.9 437.5,295.3 440.5,295.4 444.5,296.0 448.5,295.9 452.5,295.4 455.5,294.4 459.5,293.5 463.5,292.4 467.5,291.4 470.5,290.4 474.5,289.4 478.5,288.4 482.5,286.8 485.5,285.2 489.5,283.7 493.5,282.4 497.5,281.1 500.5,280.2 504.5,279.6 508.5,279.3 512.5,278.8 515.5,278.6 519.5,278.9 523.5,279.1 527.5,279.3 530.5,279.7 534.5,280.1 538.5,280.3 541.5,279.8 545.5,278.8 549.5,277.6 553.5,276.5 556.5,275.6 560.5,274.7 564.5,274.3 568.5,273.9 571.5,273.7 575.5,273.8 579.5,274.1 583.5,274.3 586.5,274.6 590.5,274.8 594.5,275.1 598.5,275.3 601.5,275.9 605.5,276.9 609.5,277.6 613.5,277.8 616.5,277.8 620.5,278.0 624.5,278.6 628.5,279.4 631.5,280.2 635.5,281.5 639.5,282.6 642.5,284.3 646.5,285.3 650.5,286.2 654.5,287.0 657.5,288.4 661.5,289.6 665.5,290.9 669.5,292.0 672.5,293.2 676.5,295.0 680.5,296.5 684.5,298.1 687.5,299.7 691.5,301.5 695.5,303.8 699.5,306.0 702.5,308.3 706.5,310.6 710.5,313.1 714.5,314.8 717.5,316.3 721.5,317.8 725.5,318.7 729.5,319.9 732.5,321.0 736.5,322.4 740.5,323.5 743.5,324.2 747.5,324.7 751.5,325.3 755.5,326.0 758.5,326.6 762.5,326.6 766.5,326.9 770.5,327.3 773.5,328.1 777.5,329.3 781.5,329.9 785.5,330.5 788.5,331.1 792.5,331.4 796.5,331.6 800.5,331.9 803.5,332.2 807.5,332.6 811.5,332.9 815.5,333.1 818.5,333.2 822.5,333.8 826.5,334.0 830.5,334.1 833.5,334.7 837.5,335.4 841.5,336.1 844.5,336.7 848.5,336.9 852.5,337.1 856.5,337.0 859.5,336.8 863.5,336.7 867.5,336.1 871.5,335.8 874.5,335.5 878.5,335.1 882.5,334.8 886.5,334.8 889.5,334.6 893.5,334.5 897.5,334.1 901.5,333.6 904.5,333.3 908.5,332.7 912.5,332.2 916.5,331.2 919.5,329.8 923.5,328.2 927.5,326.9 931.5,325.7 934.5,324.1 938.5,323.4 942.5,322.9 945.5,322.4 949.5,321.9 953.5,321.2 957.5,320.4 960.5,319.7 964.5,319.0 968.5,318.7 972.5,318.5 975.5,318.2 979.5,317.8 983.5,317.4 987.5,317.3 990.5,317.5 994.5,317.5 998.5,317.0 1002.5,316.4 1005.5,315.9 1009.5,315.4 1013.5,315.1 1017.5,315.1 1020.5,315.2 1024.5,314.9 1028.5,314.3 1032.5,313.3 1035.5,312.3 1039.5,311.3 1043.5,310.2 1047.5,309.1 1050.5,307.9 1054.5,306.6 1058.5,305.1 1061.5,304.0 1065.5,302.6 1069.5,301.1 1073.5,299.4 1076.5,297.7 1080.5,296.3 1084.5,295.0 1088.5,293.8 1091.5,292.7 1095.5,291.8 1099.5,291.0 1103.5,290.0 1106.5,289.0 1110.5,287.8 1114.5,286.8 1118.5,286.1 1121.5,285.4 1125.5,284.7 1129.5,284.2 1133.5,284.1 1136.5,283.7 1140.5,283.2 1144.5,282.8 1148.5,282.8 1151.5,282.7 1155.5,282.6 1159.5,282.7 1162.5,282.4 1166.5,282.0 1170.5,281.6 1174.5,281.2 1177.5,280.9 1181.5,280.7 1185.5,280.2 1189.5,279.7 1192.5,278.7 1196.5,277.6 1200.5,276.6 1204.5,275.4 1207.5,274.4 1211.5,273.5 1215.5,272.3 1219.5,270.9 1222.5,269.7 1226.5,268.5 1230.5,267.0 1234.5,265.5 1237.5,263.8 1241.5,261.8 1245.5,260.0 1249.5,258.4 1252.5,256.7 1256.5,255.1 1260.5,253.3 1263.5,251.5 1267.5,249.7 1271.5,247.8 1275.5,246.0 1278.5,244.5 1282.5,242.8 1286.5,241.1 1290.5,239.8 1293.5,238.3 1297.5,237.0 1301.5,235.8 1305.5,234.2 1308.5,232.5 1312.5,230.9 1316.5,229.4 1320.5,227.8 1323.5,226.2 1327.5,224.7 1331.5,223.1 1335.5,221.2 1338.5,219.4 1342.5,217.5 1346.5,215.4 1350.5,213.3 1353.5,211.4 1357.5,209.4 1361.5,207.3 1364.5,205.4 1368.5,203.6 1372.5,202.0 1376.5,199.9 1379.5,197.7 1383.5,195.6 1387.5,194.0 1391.5,192.4 1394.5,190.8" fill="none" stroke="#ff0000" stroke-width="2.4" stroke-linejoin="round" shape-rendering="crispEdges" />
<polyline points="78.5,187.3 81.5,191.0 85.5,194.3 89.5,196.7 93.5,198.6 96.5,200.0 100.5,199.5 104.5,198.7 108.5,196.6 111.5,194.1 115.5,192.1 119.5,190.8 122.5,189.2 126.5,186.2 130.5,184.3 134.5,182.4 137.5,179.8 141.5,175.1 145.5,171.2 149.5,169.5 152.5,167.4 156.5,165.0 160.5,162.7 164.5,161.6 167.5,161.0 171.5,161.8 175.5,163.3 179.5,163.8 182.5,165.8 186.5,167.8 190.5,171.6 194.5,174.8 197.5,180.0 201.5,185.9 205.5,190.2 209.5,195.5 212.5,200.3 216.5,205.7 220.5,209.1 223.5,213.4 227.5,218.3 231.5,224.1 235.5,228.7 238.5,234.4 242.5,240.7 246.5,244.9 250.5,249.6 253.5,254.2 257.5,259.8 261.5,264.7 265.5,268.8 268.5,272.8 272.5,276.3 276.5,279.1 280.5,282.3 283.5,282.8 287.5,284.1 291.5,285.8 295.5,287.7 298.5,288.4 302.5,288.6 306.5,287.1 310.5,286.1 313.5,285.0 317.5,285.2 321.5,288.0 324.5,290.4 328.5,292.9 332.5,295.0 336.5,296.7 339.5,297.5 343.5,298.8 347.5,298.9 351.5,298.4 354.5,298.9 358.5,301.6 362.5,304.0 366.5,306.6 369.5,309.9 373.5,311.9 377.5,313.8 381.5,315.3 384.5,316.5 388.5,317.6 392.5,317.8 396.5,316.6 399.5,315.3 403.5,314.3 407.5,312.4 411.5,309.9 414.5,307.6 418.5,304.8 422.5,303.2 425.5,302.8 429.5,302.8 433.5,300.4 437.5,297.7 440.5,293.8 444.5,290.4 448.5,287.5 452.5,283.9 455.5,280.8 459.5,278.0 463.5,274.5 467.5,271.1 470.5,266.6 474.5,262.4 478.5,257.9 482.5,252.9 485.5,249.0 489.5,246.2 493.5,243.7 497.5,241.2 500.5,239.5 504.5,237.0 508.5,236.0 512.5,234.7 515.5,235.4 519.5,236.4 523.5,237.8 527.5,240.2 530.5,242.8 534.5,245.7 538.5,248.7 541.5,250.6 545.5,253.3 549.5,255.1 553.5,257.3 556.5,261.4 560.5,265.3 564.5,269.1 568.5,273.3 571.5,276.6 575.5,279.3 579.5,282.6 583.5,286.4 586.5,291.4 590.5,295.1 594.5,298.3 598.5,300.5 601.5,303.6 605.5,307.0 609.5,309.1 613.5,310.1 616.5,311.8 620.5,314.0 624.5,318.2 628.5,323.0 631.5,326.4 635.5,330.1 639.5,332.6 642.5,335.8 646.5,338.1 650.5,340.0 654.5,341.5 657.5,342.7 661.5,342.7 665.5,342.3 669.5,341.2 672.5,341.4 676.5,341.2 680.5,339.7 684.5,339.4 687.5,340.2 691.5,342.1 695.5,344.1 699.5,344.6 702.5,344.5 706.5,343.9 710.5,344.1 714.5,342.8 717.5,339.9 721.5,338.6 725.5,336.9 729.5,335.5 732.5,333.9 736.5,333.2 740.5,333.1 743.5,333.1 747.5,332.3 751.5,331.1 755.5,331.2 758.5,331.2 762.5,329.6 766.5,326.9 770.5,323.7 773.5,321.7 777.5,320.5 781.5,319.6 785.5,317.5 788.5,317.9 792.5,318.4 796.5,318.1 800.5,318.7 803.5,319.7 807.5,321.1 811.5,322.7 815.5,323.9 818.5,325.3 822.5,327.6 826.5,329.6 830.5,331.5 833.5,333.6 837.5,336.3 841.5,339.2 844.5,342.2 848.5,344.5 852.5,346.4 856.5,347.5 859.5,348.7 863.5,349.4 867.5,350.0 871.5,350.6 874.5,350.9 878.5,350.0 882.5,349.3 886.5,348.4 889.5,346.8 893.5,345.0 897.5,342.5 901.5,340.2 904.5,337.1 908.5,333.2 912.5,330.7 916.5,327.5 919.5,323.6 923.5,318.5 927.5,313.8 931.5,310.2 934.5,306.0 938.5,302.8 942.5,300.5 945.5,298.4 949.5,296.2 953.5,293.8 957.5,290.7 960.5,288.0 964.5,286.1 968.5,285.8 972.5,285.4 975.5,284.7 979.5,285.0 983.5,285.4 987.5,285.1 990.5,285.6 994.5,286.6 998.5,288.1 1002.5,288.9 1005.5,289.9 1009.5,291.4 1013.5,293.1 1017.5,294.8 1020.5,296.4 1024.5,297.6 1028.5,299.1 1032.5,300.0 1035.5,300.6 1039.5,300.9 1043.5,299.8 1047.5,299.4 1050.5,298.8 1054.5,297.6 1058.5,296.7 1061.5,296.2 1065.5,294.7 1069.5,293.2 1073.5,291.7 1076.5,290.4 1080.5,288.7 1084.5,287.6 1088.5,285.5 1091.5,282.8 1095.5,280.5 1099.5,279.2 1103.5,277.2 1106.5,276.2 1110.5,274.7 1114.5,273.4 1118.5,272.7 1121.5,271.5 1125.5,270.7 1129.5,270.1 1133.5,270.0 1136.5,269.8 1140.5,269.2 1144.5,268.6 1148.5,268.6 1151.5,268.9 1155.5,269.1 1159.5,269.2 1162.5,268.7 1166.5,268.2 1170.5,267.8 1174.5,266.7 1177.5,266.3 1181.5,265.8 1185.5,265.2 1189.5,264.6 1192.5,263.7 1196.5,261.9 1200.5,260.4 1204.5,258.4 1207.5,256.3 1211.5,254.4 1215.5,252.9 1219.5,250.8 1222.5,248.7 1226.5,246.4 1230.5,243.3 1234.5,239.8 1237.5,237.1 1241.5,234.3 1245.5,231.7 1249.5,229.1 1252.5,226.6 1256.5,223.3 1260.5,219.9 1263.5,216.4 1267.5,212.7 1271.5,210.0 1275.5,207.0 1278.5,204.9 1282.5,202.0 1286.5,199.1 1290.5,197.2 1293.5,195.6 1297.5,193.9 1301.5,192.1 1305.5,190.2 1308.5,188.6 1312.5,187.0 1316.5,185.8 1320.5,184.0 1323.5,182.8 1327.5,181.4 1331.5,180.1 1335.5,178.6 1338.5,177.3 1342.5,176.0 1346.5,174.2 1350.5,172.3 1353.5,170.9 1357.5,169.8 1361.5,168.4 1364.5,166.1 1368.5,164.5 1372.5,163.3 1376.5,161.2 1379.5,159.7 1383.5,158.4 1387.5,157.9 1391.5,157.2 1394.5,156.7" fill="none" stroke="#ff00dc" stroke-width="1" stroke-linejoin="round" shape-rendering="crispEdges" />
<polyline points="21.5,161.4 25.5,166.5 29.5,169.0 33.5,173.8 36.5,186.1 40.5,193.5 44.5,193.7 48.5,191.3 51.5,189.6 55.5,181.5 59.5,180.8 63.5,184.8 66.5,195.2 70.5,203.4 74.5,208.9 78.5,213.3 81.5,219.0 85.5,221.8 89.5,219.7 93.5,217.7 96.5,212.3 100.5,200.4 104.5,186.4 108.5,173.5 111.5,168.3 115.5,162.0 119.5,159.1 122.5,153.3 126.5,147.9 130.5,142.1 134.5,141.9 137.5,140.9 141.5,138.8 145.5,143.5 149.5,150.0 152.5,153.6 156.5,159.6 160.5,172.1 164.5,181.3 167.5,183.5 171.5,189.6 175.5,193.6 179.5,191.0 182.5,190.3 186.5,195.8 190.5,201.5 194.5,205.3 197.5,218.0 201.5,228.5 205.5,231.7 209.5,237.4 212.5,242.7 216.5,241.8 220.5,236.3 223.5,242.7 227.5,244.7 231.5,254.9 235.5,264.2 238.5,282.3 242.5,292.5 246.5,295.9 250.5,295.5 253.5,292.6 257.5,291.9 261.5,291.9 265.5,297.0 268.5,298.2 272.5,306.4 276.5,306.0 280.5,302.1 283.5,293.5 287.5,287.8 291.5,280.1 295.5,270.4 298.5,267.3 302.5,268.1 306.5,266.9 310.5,265.4 313.5,271.7 317.5,279.4 321.5,293.5 324.5,308.7 328.5,319.6 332.5,332.0 336.5,337.8 339.5,334.7 343.5,332.0 347.5,330.4 351.5,319.4 354.5,311.2 358.5,310.1 362.5,308.7 366.5,311.1 369.5,316.5 373.5,319.0 377.5,316.9 381.5,311.9 384.5,305.1 388.5,302.5 392.5,303.3 396.5,304.6 399.5,308.8 403.5,310.8 407.5,311.4 411.5,306.1 414.5,298.7 418.5,289.7 422.5,285.8 425.5,280.9 429.5,282.8 433.5,281.4 437.5,280.2 440.5,273.7 444.5,266.9 448.5,257.9 452.5,250.8 455.5,244.6 459.5,241.6 463.5,238.7 467.5,237.5 470.5,235.5 474.5,235.0 478.5,230.7 482.5,225.1 485.5,218.0 489.5,217.1 493.5,215.0 497.5,218.8 500.5,227.1 504.5,234.8 508.5,240.5 512.5,244.0 515.5,250.6 519.5,254.9 523.5,261.0 527.5,267.8 530.5,277.3 534.5,282.9 538.5,287.9 541.5,288.6 545.5,287.9 549.5,284.2 553.5,276.9 556.5,275.9 560.5,276.8 564.5,280.3 568.5,287.8 571.5,295.9 575.5,298.3 579.5,304.1 583.5,309.6 586.5,316.2 590.5,324.5 594.5,331.2 598.5,332.6 601.5,336.4 605.5,339.7 609.5,339.2 613.5,335.0 616.5,333.7 620.5,329.8 624.5,328.9 628.5,332.4 631.5,341.0 635.5,349.8 639.5,354.4 642.5,358.2 646.5,356.4 650.5,352.7 654.5,349.9 657.5,350.2 661.5,344.0 665.5,341.0 669.5,336.0 672.5,332.3 676.5,330.5 680.5,327.8 684.5,327.6 687.5,331.1 691.5,336.4 695.5,341.3 699.5,348.4 702.5,352.8 706.5,355.8 710.5,357.7 714.5,349.0 717.5,339.5 721.5,332.9 725.5,324.9 729.5,315.7 732.5,315.0 736.5,317.2 740.5,318.9 743.5,320.7 747.5,319.4 751.5,318.9 755.5,319.9 758.5,320.3 762.5,317.2 766.5,315.0 770.5,312.1 773.5,310.1 777.5,309.7 781.5,315.4 785.5,320.0 788.5,325.5 792.5,326.3 796.5,323.6 800.5,321.5 803.5,324.6 807.5,327.8 811.5,334.5 815.5,342.1 818.5,347.0 822.5,350.8 826.5,353.0 830.5,354.9 833.5,358.8 837.5,361.3 841.5,361.3 844.5,362.6 848.5,362.2 852.5,361.2 856.5,360.2 859.5,358.3 863.5,354.2 867.5,348.4 871.5,340.4 874.5,334.9 878.5,329.7 882.5,327.3 886.5,328.3 889.5,326.8 893.5,323.5 897.5,320.8 901.5,316.9 904.5,309.4 908.5,304.2 912.5,304.0 916.5,301.5 919.5,295.8 923.5,287.8 927.5,283.6 931.5,278.3 934.5,272.3 938.5,271.3 942.5,276.3 945.5,279.1 949.5,278.8 953.5,280.6 957.5,278.9 960.5,278.3 964.5,277.6 968.5,282.2 972.5,287.4 975.5,292.8 979.5,297.7 983.5,301.4 987.5,301.1 990.5,302.3 994.5,303.4 998.5,300.0 1002.5,297.7 1005.5,297.8 1009.5,295.5 1013.5,297.1 1017.5,303.4 1020.5,308.9 1024.5,309.5 1028.5,311.1 1032.5,306.7 1035.5,301.2 1039.5,295.7 1043.5,291.0 1047.5,288.5 1050.5,288.0 1054.5,285.8 1058.5,284.7 1061.5,286.5 1065.5,283.6 1069.5,281.0 1073.5,276.6 1076.5,272.2 1080.5,267.7 1084.5,267.0 1088.5,266.2 1091.5,267.8 1095.5,269.6 1099.5,271.7 1103.5,269.7 1106.5,269.5 1110.5,268.7 1114.5,267.3 1118.5,264.7 1121.5,265.8 1125.5,266.1 1129.5,267.2 1133.5,271.1 1136.5,274.9 1140.5,274.1 1144.5,272.5 1148.5,270.5 1151.5,267.5 1155.5,265.2 1159.5,267.1 1162.5,266.8 1166.5,266.4 1170.5,265.3 1174.5,262.1 1177.5,258.0 1181.5,257.8 1185.5,256.6 1189.5,254.5 1192.5,252.4 1196.5,248.4 1200.5,244.3 1204.5,240.1 1207.5,237.8 1211.5,237.9 1215.5,238.1 1219.5,234.3 1222.5,231.6 1226.5,227.8 1230.5,220.7 1234.5,214.4 1237.5,211.9 1241.5,208.7 1245.5,206.6 1249.5,205.5 1252.5,205.4 1256.5,202.6 1260.5,199.3 1263.5,193.3 1267.5,186.9 1271.5,182.0 1275.5,179.4 1278.5,180.2 1282.5,180.1 1286.5,183.3 1290.5,187.1 1293.5,188.6 1297.5,187.3 1301.5,188.3 1305.5,185.2 1308.5,180.0 1312.5,177.2 1316.5,176.5 1320.5,174.5 1323.5,175.8 1327.5,176.4 1331.5,175.3 1335.5,170.3 1338.5,166.2 1342.5,159.9 1346.5,153.1 1350.5,148.2 1353.5,149.4 1357.5,150.3 1361.5,152.6 1364.5,154.8 1368.5,157.2 1372.5,157.2 1376.5,153.8 1379.5,150.4 1383.5,149.0 1387.5,151.1 1391.5,151.9 1394.5,156.5" fill="none" stroke="#0000ff" stroke-width="1" stroke-linejoin="round" shape-rendering="crispEdges" />
<g shape-rendering="crispEdges">
<path d="M6 149h3V152h-3zM7 133h1V149h-1zM7 152h1V156h-1zM9 149h3V174h-3zM10 148h1V149h-1zM10 174h1V177h-1zM24 160h3V178h-3zM25 178h1V179h-1zM28 176h3V187h-3zM29 175h1V176h-1zM29 187h1V192h-1zM32 194h3V197h-3zM33 183h1V194h-1zM33 197h1V204h-1zM35 188h3V216h-3zM50 176h3V188h-3zM51 174h1V176h-1zM51 188h1V192h-1zM58 170h3V188h-3zM59 188h1V191h-1zM62 191h3V198h-3zM63 198h1V204h-1zM65 198h3V227h-3zM69 228h3V230h-3zM70 207h1V228h-1zM70 230h1V236h-1zM80 204h3V227h-3zM84 228h3V241h-3zM85 222h1V228h-1zM85 241h1V242h-1zM103 169h3V171h-3zM104 164h1V169h-1zM104 171h1V178h-1zM110 162h3V167h-3zM111 152h1V162h-1zM111 167h1V168h-1zM118 150h3V152h-3zM119 149h1V150h-1zM119 152h1V158h-1zM129 130h3V138h-3zM130 127h1V130h-1zM130 138h1V141h-1zM133 136h3V150h-3zM136 145h3V148h-3zM137 142h1V145h-1zM137 148h1V155h-1zM144 134h3V151h-3zM145 151h1V153h-1zM148 161h3V170h-3zM149 160h1V161h-1zM149 170h1V174h-1zM155 170h3V178h-3zM156 169h1V170h-1zM156 178h1V179h-1zM159 185h3V195h-3zM160 184h1V185h-1zM160 195h1V196h-1zM163 181h3V197h-3zM164 179h1V181h-1zM164 197h1V200h-1zM170 181h3V198h-3zM171 180h1V181h-1zM181 180h3V193h-3zM182 179h1V180h-1zM182 193h1V194h-1zM185 182h3V208h-3zM186 177h1V182h-1zM186 208h1V210h-1zM189 205h3V227h-3zM196 221h3V245h-3zM197 245h1V246h-1zM200 245h3V246h-3zM201 233h1V245h-1zM201 246h1V250h-1zM208 233h3V255h-3zM209 225h1V233h-1zM209 255h1V256h-1zM222 229h3V256h-3zM223 256h1V263h-1zM226 259h3V265h-3zM227 253h1V259h-1zM227 265h1V273h-1zM230 277h3V294h-3zM231 273h1V277h-1zM231 294h1V297h-1zM234 277h3V288h-3zM235 276h1V277h-1zM235 288h1V298h-1zM237 292h3V309h-3zM238 309h1V310h-1zM249 288h3V292h-3zM250 283h1V288h-1zM250 292h1V293h-1zM256 284h3V306h-3zM257 282h1V284h-1zM257 306h1V308h-1zM264 298h3V308h-3zM265 297h1V298h-1zM265 308h1V327h-1zM271 310h3V314h-3zM272 309h1V310h-1zM272 314h1V324h-1zM286 265h3V269h-3zM287 262h1V265h-1zM287 269h1V277h-1zM290 263h3V276h-3zM291 259h1V263h-1zM291 276h1V278h-1zM297 267h3V271h-3zM298 263h1V267h-1zM298 271h1V275h-1zM301 261h3V269h-3zM302 259h1V261h-1zM302 269h1V272h-1zM309 264h3V268h-3zM310 259h1V264h-1zM310 268h1V271h-1zM312 267h3V287h-3zM313 266h1V267h-1zM316 298h3V310h-3zM317 296h1V298h-1zM317 310h1V311h-1zM320 329h3V340h-3zM321 324h1V329h-1zM321 340h1V342h-1zM323 333h3V339h-3zM324 332h1V333h-1zM324 339h1V344h-1zM331 339h3V349h-3zM332 337h1V339h-1zM332 349h1V353h-1zM353 291h3V298h-3zM354 290h1V291h-1zM354 298h1V300h-1zM357 298h3V319h-3zM358 293h1V298h-1zM365 325h3V327h-3zM366 319h1V325h-1zM366 327h1V337h-1zM387 299h3V308h-3zM388 298h1V299h-1zM388 308h1V309h-1zM391 305h3V314h-3zM392 301h1V305h-1zM392 314h1V319h-1zM406 297h3V311h-3zM407 293h1V297h-1zM421 271h3V283h-3zM422 267h1V271h-1zM422 283h1V284h-1zM424 280h3V286h-3zM425 279h1V280h-1zM425 286h1V290h-1zM428 289h3V298h-3zM429 298h1V299h-1zM462 233h3V238h-3zM463 225h1V233h-1zM463 238h1V239h-1zM466 242h3V246h-3zM467 240h1V242h-1zM467 246h1V249h-1zM473 220h3V230h-3zM474 215h1V220h-1zM474 230h1V231h-1zM488 219h3V221h-3zM489 214h1V219h-1zM489 221h1V226h-1zM496 225h3V233h-3zM497 233h1V236h-1zM499 243h3V252h-3zM500 252h1V254h-1zM514 237h3V266h-3zM515 235h1V237h-1zM518 271h3V273h-3zM519 266h1V271h-1zM519 273h1V275h-1zM522 267h3V280h-3zM523 280h1V284h-1zM526 274h3V283h-3zM527 273h1V274h-1zM527 283h1V284h-1zM533 278h3V294h-3zM534 275h1V278h-1zM534 294h1V297h-1zM537 291h3V298h-3zM538 288h1V291h-1zM538 298h1V302h-1zM555 277h3V293h-3zM556 275h1V277h-1zM556 293h1V295h-1zM563 293h3V298h-3zM564 286h1V293h-1zM564 298h1V301h-1zM574 303h3V305h-3zM575 299h1V303h-1zM575 305h1V310h-1zM578 302h3V316h-3zM579 294h1V302h-1zM579 316h1V317h-1zM582 318h3V325h-3zM583 325h1V328h-1zM585 331h3V336h-3zM586 330h1V331h-1zM586 336h1V344h-1zM589 337h3V340h-3zM590 328h1V337h-1zM590 340h1V341h-1zM593 331h3V339h-3zM594 326h1V331h-1zM594 339h1V342h-1zM600 334h3V344h-3zM601 344h1V350h-1zM604 345h3V352h-3zM605 339h1V345h-1zM605 352h1V353h-1zM619 321h3V325h-3zM620 315h1V321h-1zM620 325h1V326h-1zM623 335h3V348h-3zM624 334h1V335h-1zM624 348h1V351h-1zM627 347h3V355h-3zM628 346h1V347h-1zM628 355h1V360h-1zM630 357h3V361h-3zM631 350h1V357h-1zM631 361h1V365h-1zM634 359h3V361h-3zM635 356h1V359h-1zM635 361h1V364h-1zM641 342h3V367h-3zM642 341h1V342h-1zM649 330h3V342h-3zM650 342h1V346h-1zM653 345h3V347h-3zM654 339h1V345h-1zM654 347h1V351h-1zM656 348h3V350h-3zM657 337h1V348h-1zM657 350h1V353h-1zM675 329h3V341h-3zM676 328h1V329h-1zM683 326h3V330h-3zM684 325h1V326h-1zM684 330h1V332h-1zM686 319h3V334h-3zM687 334h1V335h-1zM690 333h3V355h-3zM691 328h1V333h-1zM691 355h1V356h-1zM694 361h3V365h-3zM695 357h1V361h-1zM695 365h1V367h-1zM698 353h3V358h-3zM699 358h1V370h-1zM709 354h3V365h-3zM710 352h1V354h-1zM710 365h1V366h-1zM720 315h3V319h-3zM721 309h1V315h-1zM721 319h1V320h-1zM724 302h3V309h-3zM725 301h1V302h-1zM725 309h1V315h-1zM728 313h3V318h-3zM729 312h1V313h-1zM729 318h1V319h-1zM735 314h3V321h-3zM736 321h1V326h-1zM739 322h3V328h-3zM740 321h1V322h-1zM740 328h1V329h-1zM750 315h3V316h-3zM751 314h1V315h-1zM751 316h1V317h-1zM754 320h3V326h-3zM755 316h1V320h-1zM755 326h1V327h-1zM757 324h3V330h-3zM758 322h1V324h-1zM758 330h1V332h-1zM772 307h3V316h-3zM773 304h1V307h-1zM773 316h1V317h-1zM776 315h3V328h-3zM777 328h1V332h-1zM780 329h3V331h-3zM781 326h1V329h-1zM781 331h1V334h-1zM787 324h3V329h-3zM788 320h1V324h-1zM795 298h3V315h-3zM796 296h1V298h-1zM796 315h1V319h-1zM799 314h3V320h-3zM800 309h1V314h-1zM800 320h1V324h-1zM802 327h3V339h-3zM803 326h1V327h-1zM803 339h1V342h-1zM806 341h3V345h-3zM807 337h1V341h-1zM807 345h1V349h-1zM810 344h3V354h-3zM811 354h1V356h-1zM821 351h3V358h-3zM822 350h1V351h-1zM822 358h1V366h-1zM829 357h3V364h-3zM830 356h1V357h-1zM830 364h1V366h-1zM832 364h3V372h-3zM833 361h1V364h-1zM833 372h1V373h-1zM843 352h3V362h-3zM844 350h1V352h-1zM844 362h1V366h-1zM847 358h3V362h-3zM848 355h1V358h-1zM848 362h1V366h-1zM851 362h3V367h-3zM852 367h1V368h-1zM858 346h3V349h-3zM859 339h1V346h-1zM881 319h3V330h-3zM882 316h1V319h-1zM882 330h1V332h-1zM885 334h3V337h-3zM886 332h1V334h-1zM886 337h1V340h-1zM911 301h3V306h-3zM912 297h1V301h-1zM912 306h1V307h-1zM930 278h3V280h-3zM931 275h1V278h-1zM931 280h1V281h-1zM937 269h3V278h-3zM938 267h1V269h-1zM938 278h1V280h-1zM941 269h3V285h-3zM942 285h1V288h-1zM959 277h3V282h-3zM960 270h1V277h-1zM967 291h3V302h-3zM968 290h1V291h-1zM971 299h3V301h-3zM972 297h1V299h-1zM972 301h1V303h-1zM974 293h3V296h-3zM975 292h1V293h-1zM975 296h1V305h-1zM978 305h3V306h-3zM979 304h1V305h-1zM979 306h1V310h-1zM982 299h3V302h-3zM983 297h1V299h-1zM983 302h1V303h-1zM989 303h3V307h-3zM990 302h1V303h-1zM990 307h1V310h-1zM1001 287h3V291h-3zM1002 282h1V287h-1zM1002 291h1V292h-1zM1004 290h3V300h-3zM1005 288h1V290h-1zM1005 300h1V301h-1zM1012 296h3V310h-3zM1013 291h1V296h-1zM1016 310h3V321h-3zM1017 307h1V310h-1zM1017 321h1V323h-1zM1034 289h3V293h-3zM1035 285h1V289h-1zM1035 293h1V298h-1zM1046 280h3V291h-3zM1047 272h1V280h-1zM1047 291h1V292h-1zM1049 283h3V285h-3zM1050 275h1V283h-1zM1050 285h1V288h-1zM1057 280h3V285h-3zM1058 278h1V280h-1zM1058 285h1V287h-1zM1060 287h3V289h-3zM1061 286h1V287h-1zM1061 289h1V294h-1zM1079 261h3V266h-3zM1080 260h1V261h-1zM1080 266h1V268h-1zM1083 268h3V273h-3zM1084 273h1V277h-1zM1094 268h3V272h-3zM1095 267h1V268h-1zM1095 272h1V273h-1zM1098 266h3V277h-3zM1099 265h1V266h-1zM1099 277h1V278h-1zM1113 259h3V265h-3zM1114 265h1V267h-1zM1128 269h3V270h-3zM1129 267h1V269h-1zM1129 270h1V276h-1zM1132 275h3V284h-3zM1133 274h1V275h-1zM1133 284h1V285h-1zM1135 277h3V283h-3zM1136 275h1V277h-1zM1136 283h1V284h-1zM1150 261h3V269h-3zM1151 269h1V272h-1zM1154 266h3V271h-3zM1155 261h1V266h-1zM1155 271h1V272h-1zM1158 272h3V275h-3zM1159 271h1V272h-1zM1159 275h1V278h-1zM1169 262h3V264h-3zM1170 260h1V262h-1zM1170 264h1V265h-1zM1180 253h3V258h-3zM1181 252h1V253h-1zM1181 258h1V262h-1zM1199 233h3V237h-3zM1200 232h1V233h-1zM1200 237h1V239h-1zM1206 236h3V241h-3zM1207 233h1V236h-1zM1207 241h1V243h-1zM1214 233h3V235h-3zM1215 232h1V233h-1zM1215 235h1V239h-1zM1221 210h3V218h-3zM1222 208h1V210h-1zM1222 218h1V220h-1zM1225 219h3V222h-3zM1226 215h1V219h-1zM1226 222h1V224h-1zM1236 203h3V205h-3zM1237 199h1V203h-1zM1237 205h1V208h-1zM1244 201h3V212h-3zM1245 197h1V201h-1zM1245 212h1V213h-1zM1251 200h3V204h-3zM1252 195h1V200h-1zM1252 204h1V205h-1zM1270 169h3V179h-3zM1271 179h1V180h-1zM1277 182h3V189h-3zM1278 181h1V182h-1zM1278 189h1V192h-1zM1289 190h3V198h-3zM1290 185h1V190h-1zM1290 198h1V199h-1zM1300 184h3V186h-3zM1301 183h1V184h-1zM1301 186h1V188h-1zM1319 175h3V176h-3zM1320 172h1V175h-1zM1320 176h1V181h-1zM1337 153h3V156h-3zM1338 148h1V153h-1zM1338 156h1V157h-1zM1349 139h3V142h-3zM1350 137h1V139h-1zM1350 142h1V144h-1zM1352 145h3V160h-3zM1353 144h1V145h-1zM1353 160h1V161h-1zM1356 152h3V161h-3zM1357 151h1V152h-1zM1360 157h3V159h-3zM1361 155h1V157h-1zM1361 159h1V162h-1zM1371 144h3V160h-3zM1372 141h1V144h-1zM1372 160h1V162h-1zM1386 154h3V164h-3zM1387 164h1V167h-1zM1393 160h3V167h-3zM1394 155h1V160h-1zM1394 167h1V168h-1z" fill="#1458c8"/>
<path d="M13 173h3V175h-3zM14 166h1V173h-1zM14 175h1V181h-1zM17 154h3V162h-3zM18 153h1V154h-1zM18 162h1V164h-1zM20 154h3V161h-3zM21 152h1V154h-1zM21 161h1V166h-1zM39 191h3V240h-3zM40 190h1V191h-1zM43 178h3V191h-3zM44 191h1V198h-1zM47 175h3V183h-3zM48 172h1V175h-1zM48 183h1V187h-1zM54 175h3V184h-3zM55 173h1V175h-1zM55 184h1V189h-1zM73 202h3V212h-3zM74 200h1V202h-1zM74 212h1V216h-1zM77 210h3V212h-3zM78 208h1V210h-1zM78 212h1V221h-1zM88 219h3V235h-3zM89 218h1V219h-1zM89 235h1V239h-1zM92 192h3V211h-3zM93 211h1V216h-1zM95 182h3V198h-3zM96 198h1V202h-1zM99 167h3V187h-3zM100 187h1V189h-1zM107 154h3V170h-3zM108 153h1V154h-1zM114 151h3V163h-3zM115 163h1V168h-1zM121 142h3V152h-3zM122 152h1V156h-1zM125 128h3V135h-3zM126 125h1V128h-1zM126 135h1V139h-1zM140 132h3V145h-3zM141 145h1V146h-1zM151 168h3V170h-3zM152 164h1V168h-1zM152 170h1V180h-1zM166 181h3V197h-3zM167 179h1V181h-1zM167 197h1V198h-1zM174 198h3V200h-3zM175 193h1V198h-1zM175 200h1V206h-1zM178 182h3V200h-3zM179 181h1V182h-1zM179 200h1V202h-1zM193 216h3V232h-3zM194 232h1V233h-1zM204 224h3V233h-3zM205 220h1V224h-1zM205 233h1V246h-1zM211 243h3V255h-3zM212 255h1V262h-1zM215 241h3V245h-3zM216 237h1V241h-1zM216 245h1V248h-1zM219 219h3V242h-3zM220 218h1V219h-1zM220 242h1V253h-1zM241 307h3V318h-3zM242 298h1V307h-1zM242 318h1V322h-1zM245 282h3V298h-3zM246 280h1V282h-1zM246 298h1V301h-1zM252 273h3V278h-3zM253 278h1V287h-1zM260 306h3V309h-3zM261 297h1V306h-1zM261 309h1V312h-1zM267 298h3V307h-3zM268 297h1V298h-1zM268 307h1V312h-1zM275 304h3V316h-3zM276 300h1V304h-1zM276 316h1V317h-1zM279 287h3V305h-3zM280 284h1V287h-1zM280 305h1V306h-1zM282 265h3V281h-3zM294 255h3V277h-3zM295 277h1V279h-1zM305 263h3V278h-3zM306 262h1V263h-1zM306 278h1V280h-1zM327 323h3V330h-3zM328 314h1V323h-1zM328 330h1V336h-1zM335 339h3V346h-3zM336 334h1V339h-1zM336 346h1V349h-1zM338 324h3V331h-3zM339 319h1V324h-1zM339 331h1V332h-1zM342 325h3V332h-3zM343 316h1V325h-1zM346 315h3V321h-3zM347 314h1V315h-1zM347 321h1V326h-1zM350 294h3V310h-3zM361 318h3V320h-3zM362 315h1V318h-1zM362 320h1V325h-1zM368 321h3V330h-3zM369 330h1V333h-1zM372 310h3V330h-3zM373 330h1V334h-1zM376 308h3V311h-3zM377 303h1V308h-1zM377 311h1V315h-1zM380 293h3V306h-3zM381 292h1V293h-1zM383 293h3V302h-3zM384 290h1V293h-1zM395 315h3V326h-3zM396 310h1V315h-1zM396 326h1V327h-1zM398 314h3V321h-3zM399 313h1V314h-1zM399 321h1V329h-1zM402 303h3V308h-3zM403 308h1V312h-1zM410 288h3V301h-3zM411 301h1V303h-1zM413 278h3V289h-3zM414 276h1V278h-1zM417 269h3V278h-3zM418 278h1V283h-1zM432 271h3V287h-3zM433 268h1V271h-1zM433 287h1V289h-1zM436 263h3V271h-3zM437 271h1V280h-1zM439 251h3V259h-3zM440 249h1V251h-1zM440 259h1V263h-1zM443 252h3V257h-3zM444 245h1V252h-1zM444 257h1V258h-1zM447 252h3V258h-3zM448 245h1V252h-1zM448 258h1V259h-1zM451 235h3V248h-3zM452 234h1V235h-1zM452 248h1V249h-1zM454 232h3V236h-3zM455 236h1V240h-1zM458 236h3V242h-3zM459 232h1V236h-1zM459 242h1V244h-1zM469 225h3V230h-3zM470 230h1V235h-1zM477 214h3V225h-3zM478 225h1V228h-1zM481 210h3V218h-3zM482 209h1V210h-1zM484 211h3V214h-3zM485 207h1V211h-1zM485 214h1V219h-1zM492 219h3V221h-3zM493 217h1V219h-1zM493 221h1V225h-1zM503 249h3V251h-3zM504 245h1V249h-1zM504 251h1V254h-1zM507 249h3V252h-3zM508 244h1V249h-1zM508 252h1V254h-1zM511 237h3V246h-3zM512 246h1V247h-1zM529 284h3V290h-3zM530 290h1V298h-1zM540 283h3V298h-3zM544 280h3V290h-3zM545 279h1V280h-1zM545 290h1V292h-1zM548 266h3V277h-3zM549 265h1V266h-1zM552 258h3V264h-3zM553 256h1V258h-1zM559 288h3V291h-3zM560 287h1V288h-1zM560 291h1V296h-1zM567 303h3V307h-3zM568 307h1V311h-1zM570 298h3V309h-3zM571 309h1V310h-1zM597 323h3V338h-3zM598 322h1V323h-1zM598 338h1V342h-1zM608 338h3V348h-3zM609 335h1V338h-1zM609 348h1V353h-1zM612 318h3V326h-3zM615 317h3V328h-3zM616 316h1V317h-1zM616 328h1V334h-1zM638 348h3V377h-3zM639 345h1V348h-1zM639 377h1V380h-1zM645 346h3V352h-3zM646 345h1V346h-1zM646 352h1V353h-1zM660 336h3V353h-3zM661 335h1V336h-1zM661 353h1V355h-1zM664 331h3V336h-3zM665 329h1V331h-1zM665 336h1V345h-1zM668 317h3V328h-3zM669 316h1V317h-1zM669 328h1V329h-1zM671 328h3V330h-3zM672 318h1V328h-1zM672 330h1V332h-1zM679 322h3V342h-3zM701 352h3V356h-3zM702 356h1V361h-1zM705 349h3V351h-3zM706 342h1V349h-1zM706 351h1V358h-1zM713 322h3V336h-3zM714 321h1V322h-1zM714 336h1V341h-1zM716 310h3V321h-3zM717 308h1V310h-1zM717 321h1V325h-1zM731 318h3V329h-3zM732 317h1V318h-1zM742 318h3V326h-3zM743 326h1V330h-1zM746 312h3V318h-3zM747 311h1V312h-1zM747 318h1V319h-1zM761 302h3V330h-3zM765 301h3V303h-3zM766 298h1V301h-1zM766 303h1V307h-1zM769 302h3V312h-3zM770 301h1V302h-1zM784 324h3V328h-3zM785 320h1V324h-1zM785 328h1V330h-1zM791 320h3V328h-3zM792 328h1V330h-1zM814 353h3V357h-3zM815 350h1V353h-1zM815 357h1V360h-1zM817 344h3V352h-3zM818 342h1V344h-1zM825 356h3V359h-3zM826 355h1V356h-1zM826 359h1V364h-1zM836 356h3V364h-3zM837 364h1V367h-1zM840 358h3V363h-3zM841 357h1V358h-1zM841 363h1V366h-1zM855 352h3V364h-3zM856 350h1V352h-1zM856 364h1V369h-1zM862 342h3V350h-3zM863 350h1V352h-1zM866 332h3V340h-3zM867 340h1V342h-1zM870 328h3V332h-3zM871 326h1V328h-1zM871 332h1V341h-1zM873 324h3V334h-3zM874 323h1V324h-1zM874 334h1V335h-1zM877 322h3V325h-3zM878 320h1V322h-1zM878 325h1V328h-1zM888 320h3V334h-3zM892 308h3V320h-3zM893 306h1V308h-1zM893 320h1V321h-1zM896 309h3V312h-3zM897 307h1V309h-1zM897 312h1V314h-1zM900 311h3V321h-3zM901 309h1V311h-1zM901 321h1V325h-1zM903 300h3V304h-3zM904 299h1V300h-1zM904 304h1V309h-1zM907 294h3V302h-3zM908 290h1V294h-1zM908 302h1V303h-1zM915 296h3V306h-3zM916 295h1V296h-1zM916 306h1V307h-1zM918 282h3V298h-3zM919 278h1V282h-1zM919 298h1V301h-1zM922 260h3V270h-3zM923 258h1V260h-1zM923 270h1V272h-1zM926 273h3V276h-3zM927 260h1V273h-1zM933 266h3V280h-3zM934 264h1V266h-1zM934 280h1V283h-1zM944 287h3V289h-3zM945 285h1V287h-1zM945 289h1V294h-1zM948 279h3V287h-3zM949 277h1V279h-1zM949 287h1V289h-1zM952 275h3V284h-3zM953 272h1V275h-1zM953 284h1V287h-1zM956 269h3V279h-3zM957 279h1V280h-1zM963 284h3V286h-3zM964 283h1V284h-1zM964 286h1V292h-1zM986 300h3V303h-3zM987 298h1V300h-1zM987 303h1V305h-1zM993 302h3V314h-3zM994 301h1V302h-1zM997 289h3V300h-3zM998 300h1V301h-1zM1008 296h3V298h-3zM1009 295h1V296h-1zM1009 298h1V302h-1zM1019 318h3V328h-3zM1020 310h1V318h-1zM1020 328h1V330h-1zM1023 303h3V310h-3zM1024 302h1V303h-1zM1024 310h1V312h-1zM1027 304h3V313h-3zM1028 303h1V304h-1zM1028 313h1V314h-1zM1031 288h3V307h-3zM1032 287h1V288h-1zM1032 307h1V308h-1zM1038 291h3V296h-3zM1039 289h1V291h-1zM1039 296h1V297h-1zM1042 280h3V288h-3zM1043 279h1V280h-1zM1053 282h3V288h-3zM1054 288h1V291h-1zM1064 277h3V282h-3zM1065 276h1V277h-1zM1065 282h1V283h-1zM1068 272h3V273h-3zM1069 270h1V272h-1zM1069 273h1V276h-1zM1072 260h3V272h-3zM1075 263h3V269h-3zM1076 260h1V263h-1zM1087 268h3V276h-3zM1088 276h1V279h-1zM1090 268h3V275h-3zM1091 275h1V277h-1zM1102 263h3V273h-3zM1103 273h1V274h-1zM1105 267h3V269h-3zM1106 261h1V267h-1zM1106 269h1V272h-1zM1109 265h3V267h-3zM1110 264h1V265h-1zM1110 267h1V270h-1zM1117 264h3V270h-3zM1118 262h1V264h-1zM1120 269h3V271h-3zM1121 265h1V269h-1zM1121 271h1V273h-1zM1124 268h3V271h-3zM1125 267h1V268h-1zM1125 271h1V274h-1zM1139 265h3V274h-3zM1140 264h1V265h-1zM1140 274h1V276h-1zM1143 260h3V267h-3zM1144 267h1V268h-1zM1147 260h3V262h-3zM1148 258h1V260h-1zM1148 262h1V263h-1zM1161 259h3V268h-3zM1162 258h1V259h-1zM1162 268h1V270h-1zM1165 258h3V260h-3zM1166 260h1V263h-1zM1173 255h3V258h-3zM1174 254h1V255h-1zM1174 258h1V263h-1zM1176 254h3V256h-3zM1177 253h1V254h-1zM1177 256h1V259h-1zM1184 252h3V257h-3zM1185 257h1V259h-1zM1188 253h3V255h-3zM1189 250h1V253h-1zM1191 245h3V252h-3zM1192 244h1V245h-1zM1192 252h1V254h-1zM1195 234h3V245h-3zM1203 231h3V236h-3zM1204 230h1V231h-1zM1204 236h1V237h-1zM1210 246h3V248h-3zM1211 243h1V246h-1zM1211 248h1V250h-1zM1218 218h3V233h-3zM1229 210h3V222h-3zM1230 209h1V210h-1zM1233 204h3V207h-3zM1234 202h1V204h-1zM1234 207h1V211h-1zM1240 202h3V208h-3zM1241 200h1V202h-1zM1248 204h3V212h-3zM1249 203h1V204h-1zM1255 191h3V200h-3zM1256 200h1V201h-1zM1259 185h3V187h-3zM1260 183h1V185h-1zM1260 187h1V192h-1zM1262 182h3V190h-3zM1263 180h1V182h-1zM1263 190h1V192h-1zM1266 172h3V186h-3zM1267 171h1V172h-1zM1274 178h3V182h-3zM1275 175h1V178h-1zM1275 182h1V186h-1zM1281 182h3V193h-3zM1282 181h1V182h-1zM1285 188h3V190h-3zM1286 186h1V188h-1zM1286 190h1V193h-1zM1292 186h3V196h-3zM1293 185h1V186h-1zM1293 196h1V197h-1zM1296 183h3V189h-3zM1297 181h1V183h-1zM1297 189h1V190h-1zM1304 173h3V178h-3zM1305 172h1V173h-1zM1307 172h3V174h-3zM1308 170h1V172h-1zM1308 174h1V175h-1zM1311 172h3V174h-3zM1312 170h1V172h-1zM1312 174h1V175h-1zM1315 179h3V182h-3zM1316 182h1V186h-1zM1322 179h3V183h-3zM1323 178h1V179h-1zM1323 183h1V185h-1zM1326 175h3V178h-3zM1327 174h1V175h-1zM1327 178h1V182h-1zM1330 166h3V168h-3zM1331 163h1V166h-1zM1331 168h1V171h-1zM1334 154h3V161h-3zM1335 152h1V154h-1zM1335 161h1V162h-1zM1341 148h3V154h-3zM1342 146h1V148h-1zM1345 142h3V153h-3zM1346 139h1V142h-1zM1346 153h1V154h-1zM1363 153h3V156h-3zM1364 150h1V153h-1zM1364 156h1V157h-1zM1367 154h3V156h-3zM1368 151h1V154h-1zM1368 156h1V160h-1zM1375 144h3V152h-3zM1376 143h1V144h-1zM1378 142h3V144h-3zM1379 141h1V142h-1zM1379 144h1V146h-1zM1382 146h3V147h-3zM1383 144h1V146h-1zM1383 147h1V150h-1zM1390 164h3V168h-3zM1391 160h1V164h-1zM1391 168h1V169h-1z" fill="#e8190a"/>
</g>
<polyline points="452.5,470.9 455.5,470.9 459.5,470.9 463.5,470.8 467.5,470.7 470.5,470.6 474.5,470.4 478.5,470.4 482.5,470.4 485.5,470.4 489.5,470.5 493.5,470.5 497.5,470.6 500.5,470.8 504.5,471.0 508.5,471.1 512.5,471.2 515.5,471.4 519.5,471.6 523.5,471.7 527.5,471.7 530.5,471.8 534.5,471.9 538.5,472.0 541.5,472.2 545.5,472.4 549.5,472.8 553.5,472.9 556.5,473.0 560.5,473.0 564.5,473.0 568.5,472.8 571.5,473.0 575.5,473.2 579.5,473.3 583.5,473.4 586.5,473.3 590.5,473.3 594.5,473.4 598.5,473.5 601.5,473.5 605.5,473.5 609.5,473.5 613.5,473.5 616.5,473.6 620.5,473.6 624.5,473.6 628.5,473.7 631.5,473.7 635.5,473.8 639.5,473.7 642.5,473.8 646.5,473.8 650.5,473.8 654.5,473.8 657.5,473.8 661.5,473.8 665.5,473.8 669.5,473.9 672.5,473.9 676.5,473.9 680.5,474.1 684.5,474.2 687.5,474.4 691.5,474.6 695.5,474.6 699.5,474.6 702.5,474.7 706.5,474.6 710.5,474.7 714.5,474.6 717.5,474.4 721.5,474.4 725.5,474.3 729.5,474.3 732.5,474.3 736.5,474.6 740.5,474.6 743.5,474.7 747.5,474.6 751.5,474.9 755.5,474.9 758.5,474.9 762.5,474.8 766.5,474.8 770.5,474.9 773.5,475.0 777.5,475.0 781.5,475.2 785.5,475.5 788.5,475.6 792.5,475.7 796.5,475.6 800.5,476.1 803.5,476.0 807.5,475.7 811.5,475.8 815.5,476.0 818.5,476.0 822.5,476.0 826.5,476.2 830.5,476.2 833.5,476.3 837.5,476.3 841.5,476.4 844.5,476.3 848.5,476.3 852.5,476.2 856.5,476.2 859.5,476.2 863.5,476.3 867.5,476.2 871.5,476.1 874.5,476.0 878.5,475.9 882.5,475.9 886.5,475.9 889.5,475.8 893.5,475.6 897.5,475.5 901.5,475.5 904.5,475.5 908.5,475.3 912.5,475.3 916.5,475.3 919.5,475.1 923.5,475.0 927.5,474.9 931.5,474.7 934.5,474.6 938.5,474.7 942.5,474.6 945.5,474.5 949.5,474.5 953.5,474.3 957.5,474.2 960.5,474.1 964.5,474.1 968.5,474.0 972.5,474.0 975.5,474.0 979.5,474.0 983.5,474.0 987.5,474.0 990.5,473.9 994.5,473.8 998.5,473.7 1002.5,473.6 1005.5,473.6 1009.5,473.5 1013.5,473.5 1017.5,473.6 1020.5,473.4 1024.5,473.2 1028.5,473.1 1032.5,473.0 1035.5,472.7 1039.5,472.7 1043.5,472.6 1047.5,472.6 1050.5,472.5 1054.5,472.6 1058.5,472.6 1061.5,472.7 1065.5,472.6 1069.5,472.6 1073.5,472.5 1076.5,472.4 1080.5,472.4 1084.5,472.4 1088.5,472.6 1091.5,472.6 1095.5,472.6 1099.5,472.6 1103.5,472.6 1106.5,472.6 1110.5,472.6 1114.5,472.6 1118.5,472.6 1121.5,472.7 1125.5,472.7 1129.5,472.6 1133.5,472.6 1136.5,472.5 1140.5,472.5 1144.5,472.4 1148.5,472.4 1151.5,472.3 1155.5,472.3 1159.5,472.3 1162.5,472.5 1166.5,472.7 1170.5,472.8 1174.5,472.8 1177.5,472.9 1181.5,472.9 1185.5,472.9 1189.5,472.8 1192.5,472.8 1196.5,472.8 1200.5,472.6 1204.5,472.6 1207.5,472.6 1211.5,472.8 1215.5,472.9 1219.5,472.9 1222.5,472.9 1226.5,472.7 1230.5,472.7 1234.5,472.7 1237.5,472.6 1241.5,472.6 1245.5,472.7 1249.5,472.8 1252.5,472.9 1256.5,473.3 1260.5,473.2 1263.5,473.1 1267.5,472.9 1271.5,472.5 1275.5,472.3 1278.5,472.2 1282.5,472.1 1286.5,471.6 1290.5,471.6 1293.5,471.5 1297.5,471.6 1301.5,471.6 1305.5,471.6 1308.5,471.9 1312.5,471.9 1316.5,471.9 1320.5,472.0 1323.5,472.0 1327.5,472.0 1331.5,472.0 1335.5,471.9 1338.5,472.0 1342.5,472.1 1346.5,472.2 1350.5,472.3 1353.5,472.3 1357.5,472.4 1361.5,472.5 1364.5,472.7 1368.5,472.9 1372.5,473.1 1376.5,473.3 1379.5,473.4 1383.5,473.5 1387.5,473.4 1391.5,473.3 1394.5,473.2" fill="none" stroke="#1a1a70" stroke-width="1.6" stroke-linejoin="round" shape-rendering="crispEdges" />
<polyline points="227.5,470.8 231.5,470.6 235.5,470.4 238.5,470.0 242.5,469.4 246.5,469.1 250.5,468.9 253.5,468.8 257.5,468.7 261.5,468.6 265.5,468.7 268.5,468.7 272.5,469.0 276.5,469.3 280.5,469.4 283.5,469.5 287.5,469.3 291.5,469.6 295.5,470.1 298.5,470.4 302.5,470.5 306.5,470.7 310.5,470.9 313.5,470.9 317.5,471.2 321.5,471.1 324.5,471.8 328.5,471.9 332.5,471.9 336.5,471.3 339.5,471.3 343.5,471.4 347.5,471.4 351.5,470.6 354.5,470.6 358.5,470.7 362.5,470.5 366.5,470.3 369.5,470.2 373.5,470.3 377.5,470.3 381.5,470.3 384.5,470.4 388.5,470.5 392.5,470.6 396.5,470.7 399.5,470.7 403.5,470.7 407.5,470.6 411.5,470.6 414.5,470.4 418.5,470.4 422.5,470.5 425.5,470.7 429.5,470.8 433.5,470.9 437.5,470.9 440.5,470.8 444.5,471.0 448.5,471.1 452.5,471.0 455.5,471.1 459.5,471.4 463.5,471.6 467.5,471.9 470.5,472.1 474.5,471.9 478.5,472.0 482.5,472.1 485.5,472.2 489.5,472.2 493.5,472.2 497.5,472.2 500.5,472.3 504.5,472.5 508.5,472.7 512.5,473.1 515.5,473.1 519.5,473.2 523.5,473.0 527.5,473.0 530.5,472.9 534.5,473.0 538.5,473.1 541.5,473.3 545.5,473.6 549.5,473.7 553.5,474.0 556.5,474.1 560.5,474.7 564.5,474.8 568.5,474.3 571.5,474.6 575.5,475.8 579.5,475.9 583.5,476.0 586.5,476.2 590.5,476.4 594.5,476.5 598.5,476.6 601.5,476.7 605.5,476.7 609.5,476.7 613.5,476.6 616.5,476.6 620.5,476.6 624.5,476.6 628.5,476.6 631.5,476.7 635.5,477.0 639.5,477.0 642.5,477.1 646.5,477.1 650.5,477.0 654.5,476.8 657.5,476.8 661.5,476.8 665.5,476.9 669.5,476.7 672.5,476.6 676.5,476.8 680.5,477.0 684.5,477.1 687.5,477.2 691.5,477.2 695.5,477.2 699.5,477.3 702.5,477.3 706.5,477.2 710.5,477.2 714.5,476.9 717.5,476.6 721.5,476.6 725.5,476.3 729.5,476.1 732.5,476.0 736.5,476.1 740.5,476.2 743.5,476.2 747.5,476.2 751.5,476.8 755.5,477.0 758.5,476.9 762.5,476.5 766.5,476.3 770.5,476.3 773.5,476.2 777.5,476.1 781.5,476.3 785.5,476.4 788.5,476.5 792.5,477.1 796.5,476.7 800.5,476.4 803.5,476.1 807.5,475.4 811.5,475.5 815.5,475.5 818.5,475.5 822.5,475.4 826.5,475.6 830.5,475.8 833.5,475.9 837.5,476.1 841.5,476.1 844.5,476.1 848.5,476.0 852.5,475.8 856.5,475.7 859.5,475.5 863.5,475.6 867.5,475.4 871.5,475.1 874.5,475.1 878.5,475.1 882.5,475.0 886.5,475.0 889.5,474.7 893.5,474.5 897.5,474.4 901.5,474.2 904.5,474.0 908.5,473.6 912.5,473.5 916.5,473.4 919.5,473.1 923.5,472.7 927.5,472.4 931.5,472.3 934.5,472.1 938.5,472.4 942.5,472.5 945.5,472.5 949.5,472.7 953.5,472.6 957.5,472.5 960.5,472.2 964.5,472.0 968.5,471.8 972.5,471.7 975.5,471.2 979.5,471.1 983.5,471.1 987.5,471.5 990.5,471.5 994.5,471.3 998.5,471.2 1002.5,471.2 1005.5,470.9 1009.5,470.7 1013.5,470.5 1017.5,470.1 1020.5,470.1 1024.5,470.1 1028.5,470.0 1032.5,470.6 1035.5,469.9 1039.5,469.8 1043.5,469.7 1047.5,469.7 1050.5,469.4 1054.5,469.3 1058.5,469.2 1061.5,469.3 1065.5,469.1 1069.5,469.1 1073.5,469.0 1076.5,469.0 1080.5,469.2 1084.5,469.3 1088.5,469.5 1091.5,469.8 1095.5,470.0 1099.5,470.0 1103.5,470.1 1106.5,470.2 1110.5,470.2 1114.5,470.4 1118.5,470.6 1121.5,470.9 1125.5,471.1 1129.5,471.3 1133.5,471.5 1136.5,471.5 1140.5,471.5 1144.5,471.7 1148.5,472.1 1151.5,472.2 1155.5,472.4 1159.5,472.6 1162.5,472.6 1166.5,472.9 1170.5,473.1 1174.5,473.0 1177.5,473.1 1181.5,473.3 1185.5,473.5 1189.5,473.7 1192.5,473.8 1196.5,473.8 1200.5,473.9 1204.5,474.0 1207.5,474.0 1211.5,474.2 1215.5,474.3 1219.5,474.5 1222.5,474.5 1226.5,474.3 1230.5,474.5 1234.5,474.6 1237.5,474.8 1241.5,475.1 1245.5,475.3 1249.5,475.5 1252.5,475.8 1256.5,476.0 1260.5,476.5 1263.5,476.3 1267.5,476.1 1271.5,475.3 1275.5,475.2 1278.5,475.0 1282.5,474.9 1286.5,474.0 1290.5,474.0 1293.5,474.0 1297.5,474.2 1301.5,474.2 1305.5,474.1 1308.5,474.4 1312.5,474.3 1316.5,474.1 1320.5,474.0 1323.5,473.9 1327.5,473.9 1331.5,473.8 1335.5,473.7 1338.5,473.6 1342.5,473.6 1346.5,473.5 1350.5,473.4 1353.5,473.4 1357.5,473.3 1361.5,473.6 1364.5,473.8 1368.5,474.0 1372.5,474.1 1376.5,474.3 1379.5,474.3 1383.5,474.4 1387.5,474.2 1391.5,473.7 1394.5,473.4" fill="none" stroke="#0a9632" stroke-width="1" stroke-linejoin="round" shape-rendering="crispEdges" />
<polyline points="78.5,471.5 81.5,471.5 85.5,471.0 89.5,470.3 93.5,468.8 96.5,467.9 100.5,465.3 104.5,464.5 108.5,464.1 111.5,463.8 115.5,464.5 119.5,463.7 122.5,464.2 126.5,464.2 130.5,464.0 134.5,463.8 137.5,463.9 141.5,464.9 145.5,466.3 149.5,466.2 152.5,466.3 156.5,466.7 160.5,467.3 164.5,467.6 167.5,468.7 171.5,469.3 175.5,471.8 179.5,472.5 182.5,473.0 186.5,472.9 190.5,473.3 194.5,473.8 197.5,473.8 201.5,474.6 205.5,474.8 209.5,475.3 212.5,475.4 216.5,475.4 220.5,474.9 223.5,474.9 227.5,474.6 231.5,473.7 235.5,472.8 238.5,472.1 242.5,470.9 246.5,470.0 250.5,469.6 253.5,469.3 257.5,469.0 261.5,469.0 265.5,468.4 268.5,468.7 272.5,469.0 276.5,469.2 280.5,469.5 283.5,469.4 287.5,468.7 291.5,468.6 295.5,469.3 298.5,470.1 302.5,470.5 306.5,471.6 310.5,472.6 313.5,473.0 317.5,474.1 321.5,474.1 324.5,474.1 328.5,474.0 332.5,473.6 336.5,472.0 339.5,472.2 343.5,471.7 347.5,471.3 351.5,468.0 354.5,467.7 358.5,467.3 362.5,467.5 366.5,466.8 369.5,466.6 373.5,465.9 377.5,465.8 381.5,465.6 384.5,465.7 388.5,466.4 392.5,466.9 396.5,468.0 399.5,468.2 403.5,468.9 407.5,469.2 411.5,470.7 414.5,470.6 418.5,470.9 422.5,471.3 425.5,474.8 429.5,475.3 433.5,475.9 437.5,476.4 440.5,476.9 444.5,477.2 448.5,477.2 452.5,476.6 455.5,476.1 459.5,475.9 463.5,475.3 467.5,474.6 470.5,474.3 474.5,473.4 478.5,473.1 482.5,473.5 485.5,473.8 489.5,474.0 493.5,474.0 497.5,474.0 500.5,474.1 504.5,474.5 508.5,474.9 512.5,475.3 515.5,475.5 519.5,475.7 523.5,475.9 527.5,476.5 530.5,476.9 534.5,477.3 538.5,477.7 541.5,478.2 545.5,478.6 549.5,479.6 553.5,480.0 556.5,479.5 560.5,479.5 564.5,479.7 568.5,478.0 571.5,478.3 575.5,478.5 579.5,477.9 583.5,477.4 586.5,476.8 590.5,476.7 594.5,476.5 598.5,476.6 601.5,476.9 605.5,477.0 609.5,476.9 613.5,476.7 616.5,477.0 620.5,476.9 624.5,476.7 628.5,476.8 631.5,477.2 635.5,477.7 639.5,477.4 642.5,479.2 646.5,479.1 650.5,478.3 654.5,478.1 657.5,478.1 661.5,478.4 665.5,478.4 669.5,477.9 672.5,477.4 676.5,477.2 680.5,477.2 684.5,477.1 687.5,477.3 691.5,476.4 695.5,476.0 699.5,475.5 702.5,475.1 706.5,474.9 710.5,474.3 714.5,473.6 717.5,472.6 721.5,472.3 725.5,472.0 729.5,472.2 732.5,472.5 736.5,472.9 740.5,473.5 743.5,474.1 747.5,474.7 751.5,476.5 755.5,476.7 758.5,476.7 762.5,475.3 766.5,475.5 770.5,475.9 773.5,476.5 777.5,476.3 781.5,476.8 785.5,477.2 788.5,478.6 792.5,479.5 796.5,478.7 800.5,478.7 803.5,478.1 807.5,475.6 811.5,475.2 815.5,474.7 818.5,474.6 822.5,474.2 826.5,473.3 830.5,473.5 833.5,474.0 837.5,475.7 841.5,476.5 844.5,476.4 848.5,476.0 852.5,476.1 856.5,475.5 859.5,475.0 863.5,474.6 867.5,474.1 871.5,474.4 874.5,474.6 878.5,474.9 882.5,476.8 886.5,476.8 889.5,475.9 893.5,474.8 897.5,474.3 901.5,472.9 904.5,471.6 908.5,470.0 912.5,469.4 916.5,468.2 919.5,467.1 923.5,465.7 927.5,464.9 931.5,464.6 934.5,464.2 938.5,464.1 942.5,463.9 945.5,464.5 949.5,464.8 953.5,464.8 957.5,465.0 960.5,464.6 964.5,465.3 968.5,465.9 972.5,466.7 975.5,467.3 979.5,468.2 983.5,469.4 987.5,469.3 990.5,469.8 994.5,470.4 998.5,471.9 1002.5,472.6 1005.5,472.6 1009.5,472.9 1013.5,472.8 1017.5,472.4 1020.5,471.5 1024.5,470.9 1028.5,470.3 1032.5,470.0 1035.5,468.2 1039.5,468.3 1043.5,468.4 1047.5,468.2 1050.5,468.1 1054.5,468.2 1058.5,468.3 1061.5,469.1 1065.5,469.3 1069.5,469.8 1073.5,469.4 1076.5,469.5 1080.5,470.4 1084.5,470.9 1088.5,471.7 1091.5,473.0 1095.5,474.0 1099.5,474.4 1103.5,475.1 1106.5,475.6 1110.5,477.6 1114.5,477.7 1118.5,477.6 1121.5,477.9 1125.5,477.9 1129.5,477.5 1133.5,477.0 1136.5,476.0 1140.5,475.5 1144.5,475.0 1148.5,475.2 1151.5,474.6 1155.5,474.2 1159.5,473.9 1162.5,473.4 1166.5,473.4 1170.5,473.6 1174.5,473.6 1177.5,473.9 1181.5,474.2 1185.5,474.6 1189.5,475.1 1192.5,475.4 1196.5,475.3 1200.5,475.9 1204.5,476.4 1207.5,476.8 1211.5,477.6 1215.5,478.0 1219.5,478.7 1222.5,479.0 1226.5,478.7 1230.5,478.8 1234.5,479.1 1237.5,479.2 1241.5,478.9 1245.5,478.1 1249.5,478.5 1252.5,478.5 1256.5,478.2 1260.5,477.2 1263.5,476.1 1267.5,475.3 1271.5,472.8 1275.5,471.9 1278.5,471.2 1282.5,471.1 1286.5,468.5 1290.5,468.6 1293.5,468.2 1297.5,468.3 1301.5,469.4 1305.5,469.3 1308.5,470.3 1312.5,470.3 1316.5,470.1 1320.5,470.2 1323.5,469.6 1327.5,469.3 1331.5,468.9 1335.5,469.2 1338.5,469.5 1342.5,470.2 1346.5,472.5 1350.5,472.6 1353.5,472.6 1357.5,472.1 1361.5,474.8 1364.5,474.7 1368.5,475.2 1372.5,474.8 1376.5,474.8 1379.5,474.9 1383.5,473.7 1387.5,472.9 1391.5,472.2 1394.5,472.0" fill="none" stroke="#ff0000" stroke-width="1" stroke-linejoin="round" shape-rendering="crispEdges" />
<polyline points="21.5,478.1 25.5,480.8 29.5,482.8 33.5,481.3 36.5,480.5 40.5,475.3 44.5,474.3 48.5,470.3 51.5,467.2 55.5,465.7 59.5,468.5 63.5,466.5 66.5,465.9 70.5,464.2 74.5,463.8 78.5,464.0 81.5,464.2 85.5,465.1 89.5,468.5 93.5,465.3 96.5,463.8 100.5,456.2 104.5,456.8 108.5,456.6 111.5,460.6 115.5,461.7 119.5,468.1 122.5,469.2 126.5,467.6 130.5,466.5 134.5,465.5 137.5,467.3 141.5,468.7 145.5,472.4 149.5,472.5 152.5,474.1 156.5,475.3 160.5,474.6 164.5,473.8 167.5,475.1 171.5,475.8 175.5,476.4 179.5,477.2 182.5,478.2 186.5,477.4 190.5,477.8 194.5,476.2 197.5,474.6 201.5,473.8 205.5,474.1 209.5,473.6 212.5,473.6 216.5,475.2 220.5,473.6 223.5,473.0 227.5,471.4 231.5,468.6 235.5,464.3 238.5,462.7 242.5,458.9 246.5,457.3 250.5,460.1 253.5,463.1 257.5,465.9 261.5,470.1 265.5,471.3 268.5,472.3 272.5,473.3 276.5,474.7 280.5,475.8 283.5,477.6 287.5,473.6 291.5,473.6 295.5,473.8 298.5,475.5 302.5,475.9 306.5,480.3 310.5,480.3 313.5,477.7 317.5,475.0 321.5,471.5 324.5,470.3 328.5,468.7 332.5,468.0 336.5,461.7 339.5,463.7 343.5,462.6 347.5,462.6 351.5,452.4 354.5,458.6 358.5,458.0 362.5,456.8 366.5,455.8 369.5,468.2 373.5,468.5 377.5,470.1 381.5,472.7 384.5,475.7 388.5,477.1 392.5,479.0 396.5,480.1 399.5,480.7 403.5,481.3 407.5,479.3 411.5,476.7 414.5,474.1 418.5,473.5 422.5,472.5 425.5,474.5 429.5,476.9 433.5,479.3 437.5,478.7 440.5,478.1 444.5,478.0 448.5,476.2 452.5,473.0 455.5,471.7 459.5,471.6 463.5,469.5 467.5,468.7 470.5,470.9 474.5,469.9 478.5,470.3 482.5,472.3 485.5,473.3 489.5,472.7 493.5,475.7 497.5,476.1 500.5,476.7 504.5,479.7 508.5,482.9 512.5,483.9 515.5,484.0 519.5,484.4 523.5,482.1 527.5,479.4 530.5,478.1 534.5,478.9 538.5,477.3 541.5,477.9 545.5,479.5 549.5,480.8 553.5,481.0 556.5,479.6 560.5,478.3 564.5,477.2 568.5,469.4 571.5,469.4 575.5,472.6 579.5,473.4 583.5,473.4 586.5,479.0 590.5,477.6 594.5,476.6 598.5,476.8 601.5,477.5 605.5,478.7 609.5,479.5 613.5,478.1 616.5,479.3 620.5,479.5 624.5,479.5 628.5,480.7 631.5,481.4 635.5,481.4 639.5,479.1 642.5,479.8 646.5,478.4 650.5,477.3 654.5,474.9 657.5,476.5 661.5,475.8 665.5,475.0 669.5,474.8 672.5,474.0 676.5,473.7 680.5,473.8 684.5,474.3 687.5,475.7 691.5,475.4 695.5,474.7 699.5,472.5 702.5,472.9 706.5,471.6 710.5,473.0 714.5,469.4 717.5,468.4 721.5,467.0 725.5,465.8 729.5,466.6 732.5,472.2 736.5,476.8 740.5,479.6 743.5,483.2 747.5,483.7 751.5,489.5 755.5,489.1 758.5,487.2 762.5,480.6 766.5,478.8 770.5,472.4 773.5,471.6 777.5,471.2 781.5,477.3 785.5,479.5 788.5,480.1 792.5,480.4 796.5,476.8 800.5,473.6 803.5,470.2 807.5,460.3 811.5,459.8 815.5,463.8 818.5,466.8 822.5,468.2 826.5,480.4 830.5,482.4 833.5,484.4 837.5,485.0 841.5,488.1 844.5,484.7 848.5,481.5 852.5,479.4 856.5,476.6 859.5,473.5 863.5,473.1 867.5,472.5 871.5,469.9 874.5,470.0 878.5,469.8 882.5,469.0 886.5,470.8 889.5,470.0 893.5,467.6 897.5,465.9 901.5,464.9 904.5,461.7 908.5,460.7 912.5,463.1 916.5,463.5 919.5,461.3 923.5,457.8 927.5,458.8 931.5,457.6 934.5,457.5 938.5,461.3 942.5,465.3 945.5,468.3 949.5,470.7 953.5,472.5 957.5,472.5 960.5,473.7 964.5,473.2 968.5,472.2 972.5,473.2 975.5,474.0 979.5,475.9 983.5,477.1 987.5,476.7 990.5,475.9 994.5,473.9 998.5,472.6 1002.5,471.6 1005.5,470.6 1009.5,470.0 1013.5,470.8 1017.5,467.5 1020.5,464.1 1024.5,464.3 1028.5,462.3 1032.5,461.3 1035.5,457.0 1039.5,460.3 1043.5,462.2 1047.5,464.7 1050.5,466.3 1054.5,475.5 1058.5,477.2 1061.5,479.4 1065.5,480.4 1069.5,480.8 1073.5,477.6 1076.5,476.2 1080.5,475.6 1084.5,476.2 1088.5,478.5 1091.5,481.9 1095.5,482.3 1099.5,480.3 1103.5,478.9 1106.5,476.9 1110.5,475.5 1114.5,475.0 1118.5,475.1 1121.5,476.0 1125.5,475.4 1129.5,474.8 1133.5,474.3 1136.5,473.1 1140.5,470.7 1144.5,469.2 1148.5,468.4 1151.5,466.8 1155.5,468.4 1159.5,469.9 1162.5,472.1 1166.5,474.7 1170.5,478.5 1174.5,477.9 1177.5,479.0 1181.5,480.0 1185.5,480.7 1189.5,480.9 1192.5,482.1 1196.5,481.6 1200.5,482.2 1204.5,481.8 1207.5,481.0 1211.5,482.0 1215.5,481.6 1219.5,480.5 1222.5,478.9 1226.5,474.5 1230.5,473.3 1234.5,474.1 1237.5,474.2 1241.5,474.2 1245.5,476.2 1249.5,476.8 1252.5,476.7 1256.5,476.0 1260.5,474.0 1263.5,472.6 1267.5,469.0 1271.5,458.6 1275.5,456.9 1278.5,457.6 1282.5,461.0 1286.5,454.8 1290.5,465.0 1293.5,465.7 1297.5,467.5 1301.5,468.0 1305.5,476.6 1308.5,481.0 1312.5,482.7 1316.5,481.2 1320.5,479.3 1323.5,478.1 1327.5,472.7 1331.5,470.2 1335.5,470.3 1338.5,469.6 1342.5,471.5 1346.5,471.2 1350.5,471.6 1353.5,471.5 1357.5,471.5 1361.5,472.9 1364.5,474.0 1368.5,476.3 1372.5,476.2 1376.5,478.8 1379.5,477.2 1383.5,477.1 1387.5,473.5 1391.5,470.7 1394.5,467.8" fill="none" stroke="#0000ff" stroke-width="1" stroke-linejoin="round" shape-rendering="crispEdges" />
<path d="M1430 384h6v1h-6zM1430 379h3v1h-3zM1430 374h3v1h-3zM1430 369h3v1h-3zM1430 364h3v1h-3zM1430 356h6v1h-6zM1430 351h3v1h-3zM1430 346h3v1h-3zM1430 341h3v1h-3zM1430 336h3v1h-3zM1430 328h6v1h-6zM1430 323h3v1h-3zM1430 318h3v1h-3zM1430 313h3v1h-3zM1430 308h3v1h-3zM1430 300h6v1h-6zM1430 295h3v1h-3zM1430 290h3v1h-3zM1430 285h3v1h-3zM1430 280h3v1h-3zM1430 272h6v1h-6zM1430 267h3v1h-3zM1430 262h3v1h-3zM1430 257h3v1h-3zM1430 252h3v1h-3zM1430 245h6v1h-6zM1430 240h3v1h-3zM1430 235h3v1h-3zM1430 230h3v1h-3zM1430 225h3v1h-3zM1430 217h6v1h-6zM1430 212h3v1h-3zM1430 207h3v1h-3zM1430 202h3v1h-3zM1430 197h3v1h-3zM1430 189h6v1h-6zM1430 184h3v1h-3zM1430 179h3v1h-3zM1430 174h3v1h-3zM1430 169h3v1h-3zM1430 161h6v1h-6zM1430 156h3v1h-3zM1430 151h3v1h-3zM1430 146h3v1h-3zM1430 141h3v1h-3zM1430 439h6v1h-6zM1430 433h3v1h-3zM1430 427h3v1h-3zM1430 421h3v1h-3zM1430 415h3v1h-3zM1430 473h6v1h-6zM1430 467h3v1h-3zM1430 461h3v1h-3zM1430 455h3v1h-3zM1430 449h3v1h-3zM1430 506h6v1h-6zM1430 500h3v1h-3zM1430 494h3v1h-3zM1430 488h3v1h-3zM1430 482h3v1h-3zM1430 540h6v1h-6zM1430 534h3v1h-3zM1430 528h3v1h-3zM1430 522h3v1h-3zM1430 516h3v1h-3z" fill="#808080" shape-rendering="crispEdges"/>
<path d="M50 543h1v17h-1zM136 543h1v17h-1zM211 543h1v17h-1zM290 543h1v17h-1zM368 543h1v17h-1zM443 543h1v17h-1zM529 543h1v17h-1zM608 543h1v17h-1zM686 543h1v17h-1zM765 543h1v17h-1zM843 543h1v17h-1zM918 543h1v17h-1zM989 543h1v17h-1zM1075 543h1v17h-1zM1147 543h1v17h-1zM1229 543h1v17h-1zM1307 543h1v17h-1zM1382 543h1v17h-1z" fill="#909090" shape-rendering="crispEdges"/>
</svg>
<span class="p" style="left:1438.1px;top:376px;font-size:14px;color:#3c3c3c;transform:scaleX(0.772);">10,000.00</span>
<span class="p" style="left:1438.1px;top:348px;font-size:14px;color:#3c3c3c;transform:scaleX(0.772);">10,500.00</span>
<span class="p" style="left:1438.1px;top:320px;font-size:14px;color:#3c3c3c;transform:scaleX(0.772);">11,000.00</span>
<span class="p" style="left:1438.1px;top:292px;font-size:14px;color:#3c3c3c;transform:scaleX(0.772);">11,500.00</span>
<span class="p" style="left:1438.1px;top:264px;font-size:14px;color:#3c3c3c;transform:scaleX(0.772);">12,000.00</span>
<span class="p" style="left:1438.1px;top:237px;font-size:14px;color:#3c3c3c;transform:scaleX(0.772);">12,500.00</span>
<span class="p" style="left:1438.1px;top:209px;font-size:14px;color:#3c3c3c;transform:scaleX(0.772);">13,000.00</span>
<span class="p" style="left:1438.1px;top:181px;font-size:14px;color:#3c3c3c;transform:scaleX(0.772);">13,500.00</span>
<span class="p" style="left:1438.1px;top:153px;font-size:14px;color:#3c3c3c;transform:scaleX(0.772);">14,000.00</span>
<span class="p" style="left:1438.1px;top:126px;font-size:14px;color:#3c3c3c;transform:scaleX(0.772);">14,500.00</span>
<div class="" style="left:1431px;top:110px;width:49px;height:12px;background:#d7e3f1"></div>
<div class="" style="left:1431px;top:122px;width:49px;height:12px;background:#d7e3f1"></div>
<span class="p" style="left:1430.5px;top:109px;font-size:14px;color:#e8190a;transform:scaleX(0.835);">LC:37.87</span>
<span class="p" style="left:1430.5px;top:121px;font-size:14px;color:#1e50d2;transform:scaleX(0.835);">HC:-5.04</span>
<div class="" style="left:1434px;top:159px;width:58px;height:13px;background:#1e5ad2"></div>
<span class="p" style="left:1438.3px;top:158px;font-size:14px;color:#fff;transform:scaleX(0.772);">13,909.24</span>
<span class="p" style="left:1437.3px;top:171px;font-size:14px;color:#1e50d2;transform:scaleX(0.82);">-0.36%</span>
<span class="p" style="left:1437.7px;top:432px;font-size:14px;color:#3c3c3c;transform:scaleX(0.78);">7,500M</span>
<span class="p" style="left:1437.7px;top:499px;font-size:14px;color:#3c3c3c;transform:scaleX(0.78);">2,500M</span>
<div class="" style="left:1434px;top:459px;width:58px;height:13px;background:#1e5ad2"></div>
<span class="p" style="left:1437.7px;top:459px;font-size:14px;color:#fff;transform:scaleX(0.78);">5,501M</span>
<span class="p" style="left:1437.7px;top:470px;font-size:14px;color:#1e50d2;transform:scaleX(0.8);">88.42%</span>
<div class="" style="left:1484px;top:402px;width:8px;height:7px;background:#444"><svg width="8" height="7" style="position:absolute;left:0;top:0"><path d="M2 1.5l4 4M6 1.5l-4 4" stroke="#fff" stroke-width="1"/></svg></div>
<span class="p" style="left:7px;top:543px;font-size:14px;color:#3c3c3c;transform:scaleX(0.82);">2022/02</span>
<span class="p" style="left:51.2px;top:543px;font-size:14px;color:#3c3c3c;transform:scaleX(0.78);">03</span>
<span class="p" style="left:137.2px;top:543px;font-size:14px;color:#3c3c3c;transform:scaleX(0.78);">04</span>
<span class="p" style="left:212.2px;top:543px;font-size:14px;color:#3c3c3c;transform:scaleX(0.78);">05</span>
<span class="p" style="left:291.2px;top:543px;font-size:14px;color:#3c3c3c;transform:scaleX(0.78);">06</span>
<span class="p" style="left:369.2px;top:543px;font-size:14px;color:#3c3c3c;transform:scaleX(0.78);">07</span>
<span class="p" style="left:444.2px;top:543px;font-size:14px;color:#3c3c3c;transform:scaleX(0.78);">08</span>
<span class="p" style="left:530.2px;top:543px;font-size:14px;color:#3c3c3c;transform:scaleX(0.78);">09</span>
<span class="p" style="left:609.2px;top:543px;font-size:14px;color:#3c3c3c;transform:scaleX(0.78);">10</span>
<span class="p" style="left:687.2px;top:543px;font-size:14px;color:#3c3c3c;transform:scaleX(0.78);">11</span>
<span class="p" style="left:766.2px;top:543px;font-size:14px;color:#3c3c3c;transform:scaleX(0.78);">12</span>
<span class="p" style="left:844.2px;top:543px;font-size:14px;color:#3c3c3c;transform:scaleX(0.81);">2023/01</span>
<span class="p" style="left:919.2px;top:543px;font-size:14px;color:#3c3c3c;transform:scaleX(0.78);">02</span>
<span class="p" style="left:990.2px;top:543px;font-size:14px;color:#3c3c3c;transform:scaleX(0.78);">03</span>
<span class="p" style="left:1076.2px;top:543px;font-size:14px;color:#3c3c3c;transform:scaleX(0.78);">04</span>
<span class="p" style="left:1148.2px;top:543px;font-size:14px;color:#3c3c3c;transform:scaleX(0.78);">05</span>
<span class="p" style="left:1230.2px;top:543px;font-size:14px;color:#3c3c3c;transform:scaleX(0.78);">06</span>
<span class="p" style="left:1308.2px;top:543px;font-size:14px;color:#3c3c3c;transform:scaleX(0.78);">07</span>
<span class="p" style="left:1383.2px;top:543px;font-size:14px;color:#3c3c3c;transform:scaleX(0.78);">08</span>
<span class="p" style="left:1437.7px;top:543px;font-size:14px;color:#3c3c3c;transform:scaleX(0.8);">08/04</span>
<div class="" style="left:9px;top:115px;width:5px;height:5px;background:#c8c8c8;border:1px solid #777;box-sizing:border-box"></div>
<svg class="k" role="img" aria-label="나스닥" style="left:17px;top:108px" width="43" height="18"><title>나스닥</title><text x="1" y="13.3" font-size="12.2" fill="#222" textLength="36" lengthAdjust="spacingAndGlyphs" font-family="&quot;Liberation Sans&quot;, &quot;Noto Sans CJK KR&quot;, sans-serif">나스닥</text></svg>
<div class="" style="left:61px;top:115px;width:5px;height:5px;background:#c8c8c8;border:1px solid #777;box-sizing:border-box"></div>
<svg class="k" role="img" aria-label="종가 단순" style="left:69px;top:108px" width="58" height="18"><title>종가 단순</title><text x="2.6" y="13.3" font-size="12.2" fill="#0000ff" textLength="52.5" lengthAdjust="spacingAndGlyphs" font-family="&quot;Liberation Sans&quot;, &quot;Noto Sans CJK KR&quot;, sans-serif">종가 단순</text></svg>
<span class="p" style="left:127.6px;top:110px;font-size:14px;color:#0000ff;transform:scaleX(0.77);">5</span>
<span class="p" style="left:142px;top:110px;font-size:14px;color:#ff00dc;transform:scaleX(0.77);">20</span>
<span class="p" style="left:162px;top:110px;font-size:14px;color:#ff0000;transform:scaleX(0.77);">60</span>
<span class="p" style="left:183.3px;top:110px;font-size:14px;color:#0a9632;transform:scaleX(0.77);">120</span>
<span class="p" style="left:207.6px;top:110px;font-size:14px;color:#1a1a70;transform:scaleX(0.77);">200</span>
<div class="" style="left:9px;top:405px;width:5px;height:5px;background:#c8c8c8;border:1px solid #777;box-sizing:border-box"></div>
<svg class="k" role="img" aria-label="거래량" style="left:17px;top:399px" width="44" height="18"><title>거래량</title><text x="1.8" y="12.5" font-size="12" fill="#2a9090" textLength="36" lengthAdjust="spacingAndGlyphs" font-family="&quot;Liberation Sans&quot;, &quot;Noto Sans CJK KR&quot;, sans-serif">거래량</text></svg>
<svg class="k" role="img" aria-label="단순" style="left:61px;top:399px" width="30" height="18"><title>단순</title><text x="1.9" y="12.8" font-size="12.4" fill="#0000ff" textLength="24" lengthAdjust="spacingAndGlyphs" font-family="&quot;Liberation Sans&quot;, &quot;Noto Sans CJK KR&quot;, sans-serif">단순</text></svg>
<span class="p" style="left:92px;top:400px;font-size:14px;color:#0000ff;transform:scaleX(0.77);">5</span>
<span class="p" style="left:106.5px;top:400px;font-size:14px;color:#ff0000;transform:scaleX(0.77);">20</span>
<span class="p" style="left:126.5px;top:400px;font-size:14px;color:#0a9632;transform:scaleX(0.77);">60</span>
<span class="p" style="left:147.1px;top:400px;font-size:14px;color:#1a1a70;transform:scaleX(0.77);">120</span>
<span class="p" style="left:9.9px;top:414px;font-size:14px;color:#3c3c3c;transform:scaleX(0.8);">5,500,957,000</span>
<svg class="k" role="img" aria-label="주" style="left:79px;top:412px" width="18" height="18"><title>주</title><text x="2.6" y="12.9" font-size="12.8" fill="#3c3c3c" textLength="12" lengthAdjust="spacingAndGlyphs" font-family="&quot;Liberation Sans&quot;, &quot;Noto Sans CJK KR&quot;, sans-serif">주</text></svg>
<span class="p" style="left:94px;top:414px;font-size:14px;color:#3c3c3c;transform:scaleX(0.8);">(88.42%)</span>
<div class="sbar" style="left:6px;top:561px;width:1170px;height:15px;"></div>
<div class="sbtn" style="left:6px;top:561px;width:15px;height:15px;"><svg width="15" height="16" style="position:absolute;left:0;top:0"><path d="M9.5 4v8l-5-4z" fill="#000"/></svg></div>
<div class="pbtn" style="left:1177px;top:561px;width:17px;height:17px;"><svg width="17" height="17" style="position:absolute;left:-1px;top:-1px"><path d="M7 4.5v8l4.5-4z" fill="#000"/></svg></div>
<div class="pbtn" style="left:1194px;top:561px;width:17px;height:17px;"><svg width="17" height="17" style="position:absolute;left:-1px;top:-1px"><path d="M8 4.5v8l-5-4zM13 4.5v8l-5-4z" fill="#000"/></svg></div>
<div class="pbtn" style="left:1211px;top:561px;width:17px;height:17px;"><svg width="17" height="17" style="position:absolute;left:-1px;top:-1px"><path d="M5 4.5h6.5v7.5h-6.5z" fill="#000"/></svg></div>
<div class="pbtn" style="left:1228px;top:561px;width:17px;height:17px;"><svg width="17" height="17" style="position:absolute;left:-1px;top:-1px"><path d="M4 4.5v8l5-4zM9 4.5v8l5-4z" fill="#000"/></svg></div>
<svg class="k" style="left:1245px;top:561px" width="254" height="18" viewBox="1245 561 254 18"><rect x="1250" y="565.5" width="66" height="2" fill="#8a8a8a"/><rect x="1250" y="567.5" width="66" height="1" fill="#d8d8d8"/><path d="M1317 563.5h2.7v7l-2.7 2.8z" fill="#c8c8c8" stroke="#777" stroke-width="0.8"/><path d="M1252.0 575.3h1v2.4h-1zM1258.5 575.3h1v2.4h-1zM1265.0 575.3h1v2.4h-1zM1271.5 575.3h1v2.4h-1zM1278.0 575.3h1v2.4h-1zM1284.5 575.3h1v2.4h-1zM1291.0 575.3h1v2.4h-1zM1297.5 575.3h1v2.4h-1zM1304.0 575.3h1v2.4h-1zM1310.5 575.3h1v2.4h-1zM1317.0 575.3h1v2.4h-1z" fill="#000"/><rect x="1327.8" y="563.8" width="10" height="9.5" rx="1.5" fill="#fafafa" stroke="#9a9a9a" stroke-width="1"/><rect x="1333.5" y="569.5" width="6" height="6" fill="#fff" stroke="#444" stroke-width="1"/><path d="M1336.5 569.5v6M1333.5 572.5h6" stroke="#444" stroke-width="0.9"/><circle cx="1350.5" cy="569.5" r="4.6" fill="none" stroke="#444" stroke-width="1.6" stroke-dasharray="2.2 1.4"/><circle cx="1350.5" cy="569.5" r="1.5" fill="none" stroke="#444" stroke-width="1"/><path d="M1361 566l3 3 3-4 3 3 4-3" fill="none" stroke="#8a8a8a" stroke-width="1"/><path d="M1362 572l4-2 3 2 5-4" fill="none" stroke="#777" stroke-width="1"/><path d="M1361 575.5h13" stroke="#bbb" stroke-width="0.8"/><circle cx="1363.5" cy="572.8" r="2.9" fill="#111"/><path d="M1362.3 571.6l2.4 2.4m0-2.4l-2.4 2.4" stroke="#fff" stroke-width="0.9"/><rect x="1378.7" y="563.8" width="8.5" height="8" fill="#fafafa" stroke="#8a8a8a" stroke-width="1"/><rect x="1383" y="567.5" width="7.5" height="7.5" fill="#fff" stroke="#555" stroke-width="1"/><rect x="1383.5" y="568" width="6.5" height="2.2" fill="#c4c4c4"/><path d="M1395.5 564.5h12M1395.5 574.5h12" stroke="#555" stroke-width="1" stroke-dasharray="1 1"/><path d="M1396 571l3-2.5 3 2.5 5-4.5" fill="none" stroke="#999" stroke-width="1"/><path d="M1407.5 563v3M1407.5 573v3" stroke="#555" stroke-width="1"/><rect x="1410" y="561" width="1" height="16" fill="#9a9a9a"/><rect x="1411" y="561" width="16" height="17" fill="#fff"/><path d="M1414 567h11M1418 564v13" stroke="#444" stroke-width="1.2"/><path d="M1419.5 568.5l5 5.5M1419.5 568.5h3.2M1419.5 568.5v3.2" stroke="#666" stroke-width="1" fill="none"/><circle cx="1434.5" cy="567.5" r="4" fill="#fafafa" stroke="#444" stroke-width="1.1"/><path d="M1437.5 570.7l4 4" stroke="#444" stroke-width="1.6"/><rect x="1448" y="568.6" width="9" height="2.2" fill="#444"/><rect x="1465" y="568.6" width="10" height="2.2" fill="#444"/><rect x="1468.9" y="564.7" width="2.2" height="10" fill="#444"/><rect x="1478" y="561" width="1" height="16" fill="#9a9a9a"/><rect x="1479" y="561" width="16" height="17" fill="#fff"/><path d="M1483.6 575.6l3.4-9.6h1.6l3.4 9.6h-1.8l-0.8-2.5h-3.3l-0.8 2.5zM1486.6 571.6h2.4l-1.2-3.8z" fill="#333"/></svg></body></html>
